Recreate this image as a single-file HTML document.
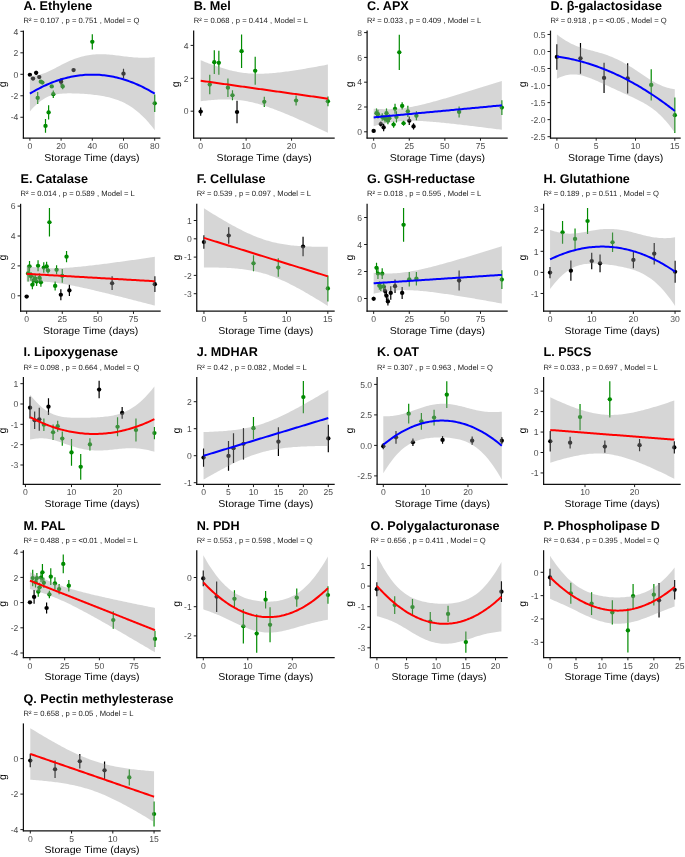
<!DOCTYPE html>
<html><head><meta charset="utf-8"><style>
html,body{margin:0;padding:0;background:#fff;width:685px;height:857px;overflow:hidden}
svg{display:block;filter:blur(0.45px)}
text{font-family:"Liberation Sans", sans-serif;text-rendering:geometricPrecision}
</style></head><body>
<svg width="685" height="857" viewBox="0 0 685 857">
<rect width="685" height="857" fill="#fff"/>
<text transform="translate(23.40,10.00) scale(1.0,1)" font-size="12.63" text-anchor="start" fill="#000" font-weight="bold">A. Ethylene</text>
<text transform="translate(23.40,23.20) scale(1.0,1)" font-size="7.63" text-anchor="start" fill="#1a1a1a">R² = 0.107 , p = 0.751 , Model = Q</text>
<clipPath id="clipA"><rect x="23.40" y="30.60" width="137.00" height="107.40"/></clipPath>
<g clip-path="url(#clipA)">
<ellipse cx="29.90" cy="74.73" rx="2.2" ry="2.1" fill="#000000"/>
<line x1="33.02" y1="76.98" x2="33.02" y2="80.21" stroke="#000000" stroke-width="1.2"/>
<ellipse cx="33.02" cy="78.60" rx="2.2" ry="2.1" fill="#000000"/>
<line x1="36.14" y1="70.65" x2="36.14" y2="74.94" stroke="#000000" stroke-width="1.2"/>
<ellipse cx="36.14" cy="72.80" rx="2.2" ry="2.1" fill="#000000"/>
<line x1="39.26" y1="75.48" x2="39.26" y2="78.70" stroke="#000000" stroke-width="1.2"/>
<ellipse cx="39.26" cy="77.09" rx="2.2" ry="2.1" fill="#000000"/>
<line x1="40.82" y1="80.42" x2="40.82" y2="83.00" stroke="#008B00" stroke-width="1.2"/>
<ellipse cx="40.82" cy="81.71" rx="2.2" ry="2.1" fill="#008B00"/>
<line x1="42.38" y1="81.50" x2="42.38" y2="83.64" stroke="#008B00" stroke-width="1.2"/>
<ellipse cx="42.38" cy="82.57" rx="2.2" ry="2.1" fill="#008B00"/>
<line x1="37.70" y1="91.91" x2="37.70" y2="103.94" stroke="#008B00" stroke-width="1.2"/>
<ellipse cx="37.70" cy="97.93" rx="2.2" ry="2.1" fill="#008B00"/>
<line x1="45.50" y1="119.09" x2="45.50" y2="132.83" stroke="#008B00" stroke-width="1.2"/>
<ellipse cx="45.50" cy="125.96" rx="2.2" ry="2.1" fill="#008B00"/>
<line x1="48.62" y1="105.23" x2="48.62" y2="119.62" stroke="#008B00" stroke-width="1.2"/>
<ellipse cx="48.62" cy="112.43" rx="2.2" ry="2.1" fill="#008B00"/>
<line x1="51.74" y1="85.15" x2="51.74" y2="87.72" stroke="#008B00" stroke-width="1.2"/>
<ellipse cx="51.74" cy="86.44" rx="2.2" ry="2.1" fill="#008B00"/>
<line x1="53.30" y1="90.41" x2="53.30" y2="97.93" stroke="#008B00" stroke-width="1.2"/>
<ellipse cx="53.30" cy="94.17" rx="2.2" ry="2.1" fill="#008B00"/>
<line x1="61.10" y1="77.95" x2="61.10" y2="85.47" stroke="#000000" stroke-width="1.2"/>
<ellipse cx="61.10" cy="81.71" rx="2.2" ry="2.1" fill="#000000"/>
<line x1="62.66" y1="83.54" x2="62.66" y2="89.34" stroke="#008B00" stroke-width="1.2"/>
<ellipse cx="62.66" cy="86.44" rx="2.2" ry="2.1" fill="#008B00"/>
<line x1="73.58" y1="68.82" x2="73.58" y2="71.40" stroke="#000000" stroke-width="1.2"/>
<ellipse cx="73.58" cy="70.11" rx="2.2" ry="2.1" fill="#000000"/>
<line x1="92.30" y1="34.24" x2="92.30" y2="49.49" stroke="#008B00" stroke-width="1.2"/>
<ellipse cx="92.30" cy="41.87" rx="2.2" ry="2.1" fill="#008B00"/>
<line x1="123.50" y1="68.82" x2="123.50" y2="78.49" stroke="#000000" stroke-width="1.2"/>
<ellipse cx="123.50" cy="73.66" rx="2.2" ry="2.1" fill="#000000"/>
<line x1="154.70" y1="94.60" x2="154.70" y2="112.00" stroke="#008B00" stroke-width="1.2"/>
<ellipse cx="154.70" cy="103.30" rx="2.2" ry="2.1" fill="#008B00"/>
<path d="M29.90,75.80 L31.48,75.75 L33.06,75.65 L34.64,75.49 L36.22,75.28 L37.80,75.01 L39.38,74.67 L40.96,74.27 L42.54,73.80 L44.12,73.26 L45.70,72.67 L47.28,72.02 L48.86,71.32 L50.44,70.57 L52.02,69.79 L53.60,68.99 L55.18,68.17 L56.76,67.33 L58.34,66.50 L59.92,65.67 L61.49,64.84 L63.07,64.03 L64.65,63.24 L66.23,62.47 L67.81,61.73 L69.39,61.02 L70.97,60.33 L72.55,59.68 L74.13,59.07 L75.71,58.48 L77.29,57.94 L78.87,57.43 L80.45,56.96 L82.03,56.53 L83.61,56.14 L85.19,55.78 L86.77,55.46 L88.35,55.18 L89.93,54.94 L91.51,54.73 L93.09,54.56 L94.67,54.42 L96.25,54.32 L97.83,54.25 L99.41,54.22 L100.99,54.21 L102.57,54.23 L104.15,54.28 L105.73,54.35 L107.31,54.45 L108.89,54.57 L110.47,54.70 L112.05,54.86 L113.63,55.03 L115.21,55.21 L116.79,55.40 L118.37,55.60 L119.95,55.80 L121.53,56.00 L123.11,56.20 L124.68,56.40 L126.26,56.60 L127.84,56.78 L129.42,56.96 L131.00,57.12 L132.58,57.27 L134.16,57.40 L135.74,57.51 L137.32,57.60 L138.90,57.68 L140.48,57.73 L142.06,57.75 L143.64,57.76 L145.22,57.74 L146.80,57.69 L148.38,57.63 L149.96,57.53 L151.54,57.42 L153.12,57.28 L154.70,57.11 L154.70,130.15 L153.12,128.09 L151.54,126.09 L149.96,124.17 L148.38,122.33 L146.80,120.55 L145.22,118.85 L143.64,117.23 L142.06,115.67 L140.48,114.19 L138.90,112.78 L137.32,111.43 L135.74,110.16 L134.16,108.96 L132.58,107.82 L131.00,106.75 L129.42,105.75 L127.84,104.80 L126.26,103.91 L124.68,103.08 L123.11,102.31 L121.53,101.59 L119.95,100.91 L118.37,100.29 L116.79,99.70 L115.21,99.16 L113.63,98.66 L112.05,98.20 L110.47,97.77 L108.89,97.37 L107.31,97.00 L105.73,96.66 L104.15,96.34 L102.57,96.05 L100.99,95.78 L99.41,95.53 L97.83,95.30 L96.25,95.08 L94.67,94.88 L93.09,94.70 L91.51,94.53 L89.93,94.37 L88.35,94.22 L86.77,94.09 L85.19,93.96 L83.61,93.85 L82.03,93.75 L80.45,93.66 L78.87,93.58 L77.29,93.51 L75.71,93.45 L74.13,93.41 L72.55,93.38 L70.97,93.36 L69.39,93.36 L67.81,93.37 L66.23,93.41 L64.65,93.47 L63.07,93.56 L61.49,93.67 L59.92,93.83 L58.34,94.02 L56.76,94.25 L55.18,94.54 L53.60,94.89 L52.02,95.30 L50.44,95.79 L48.86,96.36 L47.28,97.03 L45.70,97.79 L44.12,98.65 L42.54,99.63 L40.96,100.72 L39.38,101.93 L37.80,103.24 L36.22,104.68 L34.64,106.22 L33.06,107.87 L31.48,109.62 L29.90,111.47 Z" fill="#999999" fill-opacity="0.4"/>
<path d="M29.90,93.63 L31.48,92.68 L33.06,91.76 L34.64,90.86 L36.22,89.98 L37.80,89.13 L39.38,88.30 L40.96,87.49 L42.54,86.71 L44.12,85.96 L45.70,85.23 L47.28,84.52 L48.86,83.84 L50.44,83.18 L52.02,82.55 L53.60,81.94 L55.18,81.35 L56.76,80.79 L58.34,80.26 L59.92,79.75 L61.49,79.26 L63.07,78.80 L64.65,78.36 L66.23,77.94 L67.81,77.55 L69.39,77.19 L70.97,76.85 L72.55,76.53 L74.13,76.24 L75.71,75.97 L77.29,75.72 L78.87,75.51 L80.45,75.31 L82.03,75.14 L83.61,74.99 L85.19,74.87 L86.77,74.77 L88.35,74.70 L89.93,74.65 L91.51,74.63 L93.09,74.63 L94.67,74.65 L96.25,74.70 L97.83,74.77 L99.41,74.87 L100.99,74.99 L102.57,75.14 L104.15,75.31 L105.73,75.51 L107.31,75.72 L108.89,75.97 L110.47,76.24 L112.05,76.53 L113.63,76.85 L115.21,77.19 L116.79,77.55 L118.37,77.94 L119.95,78.36 L121.53,78.79 L123.11,79.26 L124.68,79.74 L126.26,80.26 L127.84,80.79 L129.42,81.35 L131.00,81.94 L132.58,82.55 L134.16,83.18 L135.74,83.84 L137.32,84.52 L138.90,85.23 L140.48,85.96 L142.06,86.71 L143.64,87.49 L145.22,88.30 L146.80,89.12 L148.38,89.98 L149.96,90.85 L151.54,91.76 L153.12,92.68 L154.70,93.63" fill="none" stroke="#0000FF" stroke-width="2.0"/>
</g>
<line x1="23.40" y1="30.60" x2="23.40" y2="138.55" stroke="#111111" stroke-width="1.25"/>
<line x1="22.85" y1="138.00" x2="160.40" y2="138.00" stroke="#111111" stroke-width="1.25"/>
<line x1="20.40" y1="31.34" x2="23.40" y2="31.34" stroke="#111111" stroke-width="0.95"/>
<text transform="translate(18.40,34.54) scale(1.0,1)" font-size="8.6" text-anchor="end" fill="#4D4D4D">4</text>
<line x1="20.40" y1="52.82" x2="23.40" y2="52.82" stroke="#111111" stroke-width="0.95"/>
<text transform="translate(18.40,56.02) scale(1.0,1)" font-size="8.6" text-anchor="end" fill="#4D4D4D">2</text>
<line x1="20.40" y1="74.30" x2="23.40" y2="74.30" stroke="#111111" stroke-width="0.95"/>
<text transform="translate(18.40,77.50) scale(1.0,1)" font-size="8.6" text-anchor="end" fill="#4D4D4D">0</text>
<line x1="20.40" y1="95.78" x2="23.40" y2="95.78" stroke="#111111" stroke-width="0.95"/>
<text transform="translate(18.40,98.98) scale(1.0,1)" font-size="8.6" text-anchor="end" fill="#4D4D4D">-2</text>
<line x1="20.40" y1="117.26" x2="23.40" y2="117.26" stroke="#111111" stroke-width="0.95"/>
<text transform="translate(18.40,120.46) scale(1.0,1)" font-size="8.6" text-anchor="end" fill="#4D4D4D">-4</text>
<line x1="29.90" y1="138.00" x2="29.90" y2="140.70" stroke="#111111" stroke-width="0.95"/>
<text transform="translate(29.90,149.00) scale(1.0,1)" font-size="8.6" text-anchor="middle" fill="#4D4D4D">0</text>
<line x1="61.10" y1="138.00" x2="61.10" y2="140.70" stroke="#111111" stroke-width="0.95"/>
<text transform="translate(61.10,149.00) scale(1.0,1)" font-size="8.6" text-anchor="middle" fill="#4D4D4D">20</text>
<line x1="92.30" y1="138.00" x2="92.30" y2="140.70" stroke="#111111" stroke-width="0.95"/>
<text transform="translate(92.30,149.00) scale(1.0,1)" font-size="8.6" text-anchor="middle" fill="#4D4D4D">40</text>
<line x1="123.50" y1="138.00" x2="123.50" y2="140.70" stroke="#111111" stroke-width="0.95"/>
<text transform="translate(123.50,149.00) scale(1.0,1)" font-size="8.6" text-anchor="middle" fill="#4D4D4D">60</text>
<line x1="154.70" y1="138.00" x2="154.70" y2="140.70" stroke="#111111" stroke-width="0.95"/>
<text transform="translate(154.70,149.00) scale(1.0,1)" font-size="8.6" text-anchor="middle" fill="#4D4D4D">80</text>
<text transform="translate(91.90,160.60) scale(1.057,1)" font-size="10.0" text-anchor="middle" fill="#000">Storage Time (days)</text>
<text transform="translate(6.25,84.30) scale(1.0,1) rotate(-90)" font-size="10.5" text-anchor="middle" fill="#000">g</text>
<text transform="translate(193.65,10.00) scale(1.0,1)" font-size="12.63" text-anchor="start" fill="#000" font-weight="bold">B. Mel</text>
<text transform="translate(193.65,23.20) scale(1.0,1)" font-size="7.63" text-anchor="start" fill="#1a1a1a">R² = 0.068 , p = 0.414 , Model = L</text>
<clipPath id="clipB"><rect x="193.65" y="30.60" width="141.05" height="107.40"/></clipPath>
<g clip-path="url(#clipB)">
<line x1="200.67" y1="107.42" x2="200.67" y2="115.64" stroke="#000000" stroke-width="1.2"/>
<ellipse cx="200.67" cy="111.53" rx="2.2" ry="2.1" fill="#000000"/>
<line x1="209.76" y1="74.85" x2="209.76" y2="94.26" stroke="#008B00" stroke-width="1.2"/>
<ellipse cx="209.76" cy="84.55" rx="2.2" ry="2.1" fill="#008B00"/>
<line x1="214.30" y1="50.34" x2="214.30" y2="74.02" stroke="#008B00" stroke-width="1.2"/>
<ellipse cx="214.30" cy="62.18" rx="2.2" ry="2.1" fill="#008B00"/>
<line x1="218.85" y1="50.83" x2="218.85" y2="74.85" stroke="#008B00" stroke-width="1.2"/>
<ellipse cx="218.85" cy="62.84" rx="2.2" ry="2.1" fill="#008B00"/>
<line x1="227.93" y1="78.46" x2="227.93" y2="96.89" stroke="#008B00" stroke-width="1.2"/>
<ellipse cx="227.93" cy="87.68" rx="2.2" ry="2.1" fill="#008B00"/>
<line x1="232.48" y1="90.14" x2="232.48" y2="100.34" stroke="#008B00" stroke-width="1.2"/>
<ellipse cx="232.48" cy="95.24" rx="2.2" ry="2.1" fill="#008B00"/>
<line x1="237.02" y1="100.84" x2="237.02" y2="123.21" stroke="#000000" stroke-width="1.2"/>
<ellipse cx="237.02" cy="112.02" rx="2.2" ry="2.1" fill="#000000"/>
<line x1="241.57" y1="34.38" x2="241.57" y2="67.94" stroke="#008B00" stroke-width="1.2"/>
<ellipse cx="241.57" cy="51.16" rx="2.2" ry="2.1" fill="#008B00"/>
<line x1="255.20" y1="56.75" x2="255.20" y2="84.72" stroke="#008B00" stroke-width="1.2"/>
<ellipse cx="255.20" cy="70.73" rx="2.2" ry="2.1" fill="#008B00"/>
<line x1="264.29" y1="96.72" x2="264.29" y2="106.92" stroke="#008B00" stroke-width="1.2"/>
<ellipse cx="264.29" cy="101.82" rx="2.2" ry="2.1" fill="#008B00"/>
<line x1="296.09" y1="95.57" x2="296.09" y2="105.44" stroke="#008B00" stroke-width="1.2"/>
<ellipse cx="296.09" cy="100.51" rx="2.2" ry="2.1" fill="#008B00"/>
<line x1="327.90" y1="96.40" x2="327.90" y2="106.27" stroke="#008B00" stroke-width="1.2"/>
<ellipse cx="327.90" cy="101.33" rx="2.2" ry="2.1" fill="#008B00"/>
<path d="M200.67,60.20 L202.28,60.85 L203.89,61.50 L205.50,62.13 L207.11,62.76 L208.72,63.38 L210.33,63.98 L211.94,64.58 L213.55,65.16 L215.16,65.73 L216.78,66.29 L218.39,66.83 L220.00,67.36 L221.61,67.87 L223.22,68.37 L224.83,68.84 L226.44,69.30 L228.05,69.74 L229.66,70.16 L231.27,70.56 L232.88,70.94 L234.49,71.29 L236.10,71.62 L237.71,71.93 L239.32,72.21 L240.93,72.47 L242.54,72.70 L244.15,72.91 L245.76,73.10 L247.38,73.26 L248.99,73.40 L250.60,73.51 L252.21,73.60 L253.82,73.67 L255.43,73.71 L257.04,73.74 L258.65,73.75 L260.26,73.73 L261.87,73.70 L263.48,73.65 L265.09,73.59 L266.70,73.51 L268.31,73.41 L269.92,73.30 L271.53,73.18 L273.14,73.05 L274.75,72.90 L276.36,72.74 L277.98,72.58 L279.59,72.40 L281.20,72.22 L282.81,72.02 L284.42,71.82 L286.03,71.61 L287.64,71.39 L289.25,71.17 L290.86,70.94 L292.47,70.70 L294.08,70.46 L295.69,70.22 L297.30,69.97 L298.91,69.71 L300.52,69.45 L302.13,69.19 L303.74,68.92 L305.35,68.65 L306.97,68.37 L308.58,68.10 L310.19,67.82 L311.80,67.53 L313.41,67.25 L315.02,66.96 L316.63,66.66 L318.24,66.37 L319.85,66.07 L321.46,65.78 L323.07,65.47 L324.68,65.17 L326.29,64.87 L327.90,64.56 L327.90,132.74 L326.29,131.98 L324.68,131.22 L323.07,130.46 L321.46,129.71 L319.85,128.96 L318.24,128.21 L316.63,127.46 L315.02,126.71 L313.41,125.97 L311.80,125.23 L310.19,124.49 L308.58,123.76 L306.97,123.03 L305.35,122.30 L303.74,121.57 L302.13,120.85 L300.52,120.13 L298.91,119.42 L297.30,118.71 L295.69,118.01 L294.08,117.31 L292.47,116.61 L290.86,115.92 L289.25,115.24 L287.64,114.56 L286.03,113.89 L284.42,113.23 L282.81,112.57 L281.20,111.92 L279.59,111.28 L277.98,110.65 L276.36,110.03 L274.75,109.42 L273.14,108.82 L271.53,108.23 L269.92,107.66 L268.31,107.10 L266.70,106.55 L265.09,106.01 L263.48,105.49 L261.87,104.99 L260.26,104.51 L258.65,104.04 L257.04,103.59 L255.43,103.16 L253.82,102.76 L252.21,102.37 L250.60,102.01 L248.99,101.67 L247.38,101.35 L245.76,101.06 L244.15,100.79 L242.54,100.54 L240.93,100.32 L239.32,100.13 L237.71,99.96 L236.10,99.81 L234.49,99.69 L232.88,99.59 L231.27,99.51 L229.66,99.46 L228.05,99.42 L226.44,99.41 L224.83,99.41 L223.22,99.44 L221.61,99.48 L220.00,99.53 L218.39,99.61 L216.78,99.70 L215.16,99.80 L213.55,99.92 L211.94,100.05 L210.33,100.19 L208.72,100.34 L207.11,100.50 L205.50,100.68 L203.89,100.86 L202.28,101.05 L200.67,101.25 Z" fill="#999999" fill-opacity="0.4"/>
<path d="M200.67,80.72 L202.28,80.95 L203.89,81.18 L205.50,81.40 L207.11,81.63 L208.72,81.86 L210.33,82.09 L211.94,82.31 L213.55,82.54 L215.16,82.77 L216.78,82.99 L218.39,83.22 L220.00,83.45 L221.61,83.67 L223.22,83.90 L224.83,84.13 L226.44,84.35 L228.05,84.58 L229.66,84.81 L231.27,85.04 L232.88,85.26 L234.49,85.49 L236.10,85.72 L237.71,85.94 L239.32,86.17 L240.93,86.40 L242.54,86.62 L244.15,86.85 L245.76,87.08 L247.38,87.30 L248.99,87.53 L250.60,87.76 L252.21,87.99 L253.82,88.21 L255.43,88.44 L257.04,88.67 L258.65,88.89 L260.26,89.12 L261.87,89.35 L263.48,89.57 L265.09,89.80 L266.70,90.03 L268.31,90.25 L269.92,90.48 L271.53,90.71 L273.14,90.94 L274.75,91.16 L276.36,91.39 L277.98,91.62 L279.59,91.84 L281.20,92.07 L282.81,92.30 L284.42,92.52 L286.03,92.75 L287.64,92.98 L289.25,93.20 L290.86,93.43 L292.47,93.66 L294.08,93.88 L295.69,94.11 L297.30,94.34 L298.91,94.57 L300.52,94.79 L302.13,95.02 L303.74,95.25 L305.35,95.47 L306.97,95.70 L308.58,95.93 L310.19,96.15 L311.80,96.38 L313.41,96.61 L315.02,96.83 L316.63,97.06 L318.24,97.29 L319.85,97.52 L321.46,97.74 L323.07,97.97 L324.68,98.20 L326.29,98.42 L327.90,98.65" fill="none" stroke="#FF0000" stroke-width="2.0"/>
</g>
<line x1="193.65" y1="30.60" x2="193.65" y2="138.55" stroke="#111111" stroke-width="1.25"/>
<line x1="193.10" y1="138.00" x2="334.70" y2="138.00" stroke="#111111" stroke-width="1.25"/>
<line x1="190.65" y1="45.40" x2="193.65" y2="45.40" stroke="#111111" stroke-width="0.95"/>
<text transform="translate(188.65,48.60) scale(1.0,1)" font-size="8.6" text-anchor="end" fill="#4D4D4D">4</text>
<line x1="190.65" y1="78.30" x2="193.65" y2="78.30" stroke="#111111" stroke-width="0.95"/>
<text transform="translate(188.65,81.50) scale(1.0,1)" font-size="8.6" text-anchor="end" fill="#4D4D4D">2</text>
<line x1="190.65" y1="111.20" x2="193.65" y2="111.20" stroke="#111111" stroke-width="0.95"/>
<text transform="translate(188.65,114.40) scale(1.0,1)" font-size="8.6" text-anchor="end" fill="#4D4D4D">0</text>
<line x1="200.67" y1="138.00" x2="200.67" y2="140.70" stroke="#111111" stroke-width="0.95"/>
<text transform="translate(200.67,149.00) scale(1.0,1)" font-size="8.6" text-anchor="middle" fill="#4D4D4D">0</text>
<line x1="246.11" y1="138.00" x2="246.11" y2="140.70" stroke="#111111" stroke-width="0.95"/>
<text transform="translate(246.11,149.00) scale(1.0,1)" font-size="8.6" text-anchor="middle" fill="#4D4D4D">10</text>
<line x1="291.55" y1="138.00" x2="291.55" y2="140.70" stroke="#111111" stroke-width="0.95"/>
<text transform="translate(291.55,149.00) scale(1.0,1)" font-size="8.6" text-anchor="middle" fill="#4D4D4D">20</text>
<text transform="translate(264.18,160.60) scale(1.057,1)" font-size="10.0" text-anchor="middle" fill="#000">Storage Time (days)</text>
<text transform="translate(179.37,84.30) scale(1.0,1) rotate(-90)" font-size="10.5" text-anchor="middle" fill="#000">g</text>
<text transform="translate(367.10,10.00) scale(1.0,1)" font-size="12.63" text-anchor="start" fill="#000" font-weight="bold">C. APX</text>
<text transform="translate(367.10,23.20) scale(1.0,1)" font-size="7.63" text-anchor="start" fill="#1a1a1a">R² = 0.033 , p = 0.409 , Model = L</text>
<clipPath id="clipC"><rect x="367.10" y="30.60" width="140.60" height="107.40"/></clipPath>
<g clip-path="url(#clipC)">
<line x1="373.67" y1="129.69" x2="373.67" y2="132.17" stroke="#000000" stroke-width="1.2"/>
<ellipse cx="373.67" cy="130.93" rx="2.2" ry="2.1" fill="#000000"/>
<line x1="376.52" y1="108.49" x2="376.52" y2="117.91" stroke="#008B00" stroke-width="1.2"/>
<ellipse cx="376.52" cy="113.20" rx="2.2" ry="2.1" fill="#008B00"/>
<line x1="377.94" y1="109.85" x2="377.94" y2="118.53" stroke="#008B00" stroke-width="1.2"/>
<ellipse cx="377.94" cy="114.19" rx="2.2" ry="2.1" fill="#008B00"/>
<line x1="380.79" y1="121.51" x2="380.79" y2="126.47" stroke="#000000" stroke-width="1.2"/>
<ellipse cx="380.79" cy="123.99" rx="2.2" ry="2.1" fill="#000000"/>
<line x1="383.64" y1="123.74" x2="383.64" y2="131.18" stroke="#000000" stroke-width="1.2"/>
<ellipse cx="383.64" cy="127.46" rx="2.2" ry="2.1" fill="#000000"/>
<line x1="386.49" y1="108.61" x2="386.49" y2="117.79" stroke="#008B00" stroke-width="1.2"/>
<ellipse cx="386.49" cy="113.20" rx="2.2" ry="2.1" fill="#008B00"/>
<line x1="387.91" y1="116.92" x2="387.91" y2="124.36" stroke="#008B00" stroke-width="1.2"/>
<ellipse cx="387.91" cy="120.64" rx="2.2" ry="2.1" fill="#008B00"/>
<line x1="389.33" y1="114.44" x2="389.33" y2="121.88" stroke="#008B00" stroke-width="1.2"/>
<ellipse cx="389.33" cy="118.16" rx="2.2" ry="2.1" fill="#008B00"/>
<line x1="385.06" y1="115.06" x2="385.06" y2="122.50" stroke="#008B00" stroke-width="1.2"/>
<ellipse cx="385.06" cy="118.78" rx="2.2" ry="2.1" fill="#008B00"/>
<line x1="382.21" y1="113.20" x2="382.21" y2="120.64" stroke="#008B00" stroke-width="1.2"/>
<ellipse cx="382.21" cy="116.92" rx="2.2" ry="2.1" fill="#008B00"/>
<line x1="393.61" y1="121.51" x2="393.61" y2="127.71" stroke="#008B00" stroke-width="1.2"/>
<ellipse cx="393.61" cy="124.61" rx="2.2" ry="2.1" fill="#008B00"/>
<line x1="395.03" y1="103.78" x2="395.03" y2="113.70" stroke="#008B00" stroke-width="1.2"/>
<ellipse cx="395.03" cy="108.74" rx="2.2" ry="2.1" fill="#008B00"/>
<line x1="396.45" y1="111.34" x2="396.45" y2="122.50" stroke="#008B00" stroke-width="1.2"/>
<ellipse cx="396.45" cy="116.92" rx="2.2" ry="2.1" fill="#008B00"/>
<line x1="399.30" y1="34.71" x2="399.30" y2="69.92" stroke="#008B00" stroke-width="1.2"/>
<ellipse cx="399.30" cy="52.32" rx="2.2" ry="2.1" fill="#008B00"/>
<line x1="402.15" y1="102.16" x2="402.15" y2="109.60" stroke="#008B00" stroke-width="1.2"/>
<ellipse cx="402.15" cy="105.88" rx="2.2" ry="2.1" fill="#008B00"/>
<line x1="403.57" y1="120.76" x2="403.57" y2="125.72" stroke="#008B00" stroke-width="1.2"/>
<ellipse cx="403.57" cy="123.24" rx="2.2" ry="2.1" fill="#008B00"/>
<line x1="407.85" y1="105.64" x2="407.85" y2="117.04" stroke="#008B00" stroke-width="1.2"/>
<ellipse cx="407.85" cy="111.34" rx="2.2" ry="2.1" fill="#008B00"/>
<line x1="409.27" y1="116.42" x2="409.27" y2="125.10" stroke="#000000" stroke-width="1.2"/>
<ellipse cx="409.27" cy="120.76" rx="2.2" ry="2.1" fill="#000000"/>
<line x1="413.54" y1="123.37" x2="413.54" y2="129.57" stroke="#000000" stroke-width="1.2"/>
<ellipse cx="413.54" cy="126.47" rx="2.2" ry="2.1" fill="#000000"/>
<line x1="416.39" y1="111.34" x2="416.39" y2="120.27" stroke="#008B00" stroke-width="1.2"/>
<ellipse cx="416.39" cy="115.80" rx="2.2" ry="2.1" fill="#008B00"/>
<line x1="459.11" y1="106.38" x2="459.11" y2="117.54" stroke="#008B00" stroke-width="1.2"/>
<ellipse cx="459.11" cy="111.96" rx="2.2" ry="2.1" fill="#008B00"/>
<line x1="501.83" y1="100.18" x2="501.83" y2="115.06" stroke="#008B00" stroke-width="1.2"/>
<ellipse cx="501.83" cy="107.62" rx="2.2" ry="2.1" fill="#008B00"/>
<path d="M373.67,108.71 L375.29,108.81 L376.91,108.90 L378.54,108.97 L380.16,109.04 L381.78,109.09 L383.40,109.14 L385.03,109.16 L386.65,109.17 L388.27,109.17 L389.89,109.14 L391.52,109.10 L393.14,109.04 L394.76,108.96 L396.38,108.86 L398.00,108.73 L399.63,108.59 L401.25,108.42 L402.87,108.23 L404.49,108.02 L406.12,107.79 L407.74,107.54 L409.36,107.27 L410.98,106.98 L412.60,106.67 L414.23,106.35 L415.85,106.01 L417.47,105.66 L419.09,105.30 L420.72,104.92 L422.34,104.54 L423.96,104.14 L425.58,103.74 L427.21,103.32 L428.83,102.90 L430.45,102.47 L432.07,102.04 L433.69,101.60 L435.32,101.15 L436.94,100.70 L438.56,100.25 L440.18,99.79 L441.81,99.32 L443.43,98.86 L445.05,98.39 L446.67,97.91 L448.29,97.44 L449.92,96.96 L451.54,96.48 L453.16,95.99 L454.78,95.51 L456.41,95.02 L458.03,94.53 L459.65,94.04 L461.27,93.55 L462.90,93.05 L464.52,92.56 L466.14,92.06 L467.76,91.56 L469.38,91.07 L471.01,90.57 L472.63,90.06 L474.25,89.56 L475.87,89.06 L477.50,88.56 L479.12,88.05 L480.74,87.55 L482.36,87.04 L483.98,86.53 L485.61,86.02 L487.23,85.52 L488.85,85.01 L490.47,84.50 L492.10,83.99 L493.72,83.48 L495.34,82.97 L496.96,82.46 L498.59,81.95 L500.21,81.43 L501.83,80.92 L501.83,129.78 L500.21,129.58 L498.59,129.37 L496.96,129.16 L495.34,128.96 L493.72,128.75 L492.10,128.54 L490.47,128.34 L488.85,128.13 L487.23,127.93 L485.61,127.73 L483.98,127.52 L482.36,127.32 L480.74,127.12 L479.12,126.92 L477.50,126.72 L475.87,126.52 L474.25,126.32 L472.63,126.12 L471.01,125.93 L469.38,125.73 L467.76,125.54 L466.14,125.35 L464.52,125.15 L462.90,124.96 L461.27,124.77 L459.65,124.59 L458.03,124.40 L456.41,124.21 L454.78,124.03 L453.16,123.85 L451.54,123.67 L449.92,123.50 L448.29,123.32 L446.67,123.15 L445.05,122.98 L443.43,122.82 L441.81,122.65 L440.18,122.50 L438.56,122.34 L436.94,122.19 L435.32,122.04 L433.69,121.90 L432.07,121.77 L430.45,121.64 L428.83,121.51 L427.21,121.40 L425.58,121.29 L423.96,121.19 L422.34,121.10 L420.72,121.01 L419.09,120.94 L417.47,120.88 L415.85,120.84 L414.23,120.81 L412.60,120.79 L410.98,120.79 L409.36,120.80 L407.74,120.84 L406.12,120.89 L404.49,120.96 L402.87,121.06 L401.25,121.17 L399.63,121.31 L398.00,121.47 L396.38,121.65 L394.76,121.85 L393.14,122.07 L391.52,122.32 L389.89,122.58 L388.27,122.86 L386.65,123.16 L385.03,123.48 L383.40,123.81 L381.78,124.15 L380.16,124.51 L378.54,124.88 L376.91,125.26 L375.29,125.66 L373.67,126.06 Z" fill="#999999" fill-opacity="0.4"/>
<path d="M373.67,117.39 L375.29,117.23 L376.91,117.08 L378.54,116.93 L380.16,116.78 L381.78,116.62 L383.40,116.47 L385.03,116.32 L386.65,116.17 L388.27,116.01 L389.89,115.86 L391.52,115.71 L393.14,115.56 L394.76,115.41 L396.38,115.25 L398.00,115.10 L399.63,114.95 L401.25,114.80 L402.87,114.64 L404.49,114.49 L406.12,114.34 L407.74,114.19 L409.36,114.03 L410.98,113.88 L412.60,113.73 L414.23,113.58 L415.85,113.43 L417.47,113.27 L419.09,113.12 L420.72,112.97 L422.34,112.82 L423.96,112.66 L425.58,112.51 L427.21,112.36 L428.83,112.21 L430.45,112.05 L432.07,111.90 L433.69,111.75 L435.32,111.60 L436.94,111.45 L438.56,111.29 L440.18,111.14 L441.81,110.99 L443.43,110.84 L445.05,110.68 L446.67,110.53 L448.29,110.38 L449.92,110.23 L451.54,110.07 L453.16,109.92 L454.78,109.77 L456.41,109.62 L458.03,109.47 L459.65,109.31 L461.27,109.16 L462.90,109.01 L464.52,108.86 L466.14,108.70 L467.76,108.55 L469.38,108.40 L471.01,108.25 L472.63,108.09 L474.25,107.94 L475.87,107.79 L477.50,107.64 L479.12,107.49 L480.74,107.33 L482.36,107.18 L483.98,107.03 L485.61,106.88 L487.23,106.72 L488.85,106.57 L490.47,106.42 L492.10,106.27 L493.72,106.11 L495.34,105.96 L496.96,105.81 L498.59,105.66 L500.21,105.51 L501.83,105.35" fill="none" stroke="#0000FF" stroke-width="2.0"/>
</g>
<line x1="367.10" y1="30.60" x2="367.10" y2="138.55" stroke="#111111" stroke-width="1.25"/>
<line x1="366.55" y1="138.00" x2="507.70" y2="138.00" stroke="#111111" stroke-width="1.25"/>
<line x1="364.10" y1="32.60" x2="367.10" y2="32.60" stroke="#111111" stroke-width="0.95"/>
<text transform="translate(362.10,35.80) scale(1.0,1)" font-size="8.6" text-anchor="end" fill="#4D4D4D">8</text>
<line x1="364.10" y1="57.40" x2="367.10" y2="57.40" stroke="#111111" stroke-width="0.95"/>
<text transform="translate(362.10,60.60) scale(1.0,1)" font-size="8.6" text-anchor="end" fill="#4D4D4D">6</text>
<line x1="364.10" y1="82.20" x2="367.10" y2="82.20" stroke="#111111" stroke-width="0.95"/>
<text transform="translate(362.10,85.40) scale(1.0,1)" font-size="8.6" text-anchor="end" fill="#4D4D4D">4</text>
<line x1="364.10" y1="107.00" x2="367.10" y2="107.00" stroke="#111111" stroke-width="0.95"/>
<text transform="translate(362.10,110.20) scale(1.0,1)" font-size="8.6" text-anchor="end" fill="#4D4D4D">2</text>
<line x1="364.10" y1="131.80" x2="367.10" y2="131.80" stroke="#111111" stroke-width="0.95"/>
<text transform="translate(362.10,135.00) scale(1.0,1)" font-size="8.6" text-anchor="end" fill="#4D4D4D">0</text>
<line x1="373.67" y1="138.00" x2="373.67" y2="140.70" stroke="#111111" stroke-width="0.95"/>
<text transform="translate(373.67,149.00) scale(1.0,1)" font-size="8.6" text-anchor="middle" fill="#4D4D4D">0</text>
<line x1="409.27" y1="138.00" x2="409.27" y2="140.70" stroke="#111111" stroke-width="0.95"/>
<text transform="translate(409.27,149.00) scale(1.0,1)" font-size="8.6" text-anchor="middle" fill="#4D4D4D">25</text>
<line x1="444.87" y1="138.00" x2="444.87" y2="140.70" stroke="#111111" stroke-width="0.95"/>
<text transform="translate(444.87,149.00) scale(1.0,1)" font-size="8.6" text-anchor="middle" fill="#4D4D4D">50</text>
<line x1="480.47" y1="138.00" x2="480.47" y2="140.70" stroke="#111111" stroke-width="0.95"/>
<text transform="translate(480.47,149.00) scale(1.0,1)" font-size="8.6" text-anchor="middle" fill="#4D4D4D">75</text>
<text transform="translate(437.40,160.60) scale(1.057,1)" font-size="10.0" text-anchor="middle" fill="#000">Storage Time (days)</text>
<text transform="translate(352.82,84.30) scale(1.0,1) rotate(-90)" font-size="10.5" text-anchor="middle" fill="#000">g</text>
<text transform="translate(550.50,10.00) scale(1.0,1)" font-size="12.63" text-anchor="start" fill="#000" font-weight="bold">D. β-galactosidase</text>
<text transform="translate(550.50,23.20) scale(1.0,1)" font-size="7.63" text-anchor="start" fill="#1a1a1a">R² = 0.918 , p = &lt;0.05 , Model = Q</text>
<clipPath id="clipD"><rect x="550.50" y="30.60" width="130.20" height="107.40"/></clipPath>
<g clip-path="url(#clipD)">
<line x1="556.90" y1="44.17" x2="556.90" y2="69.73" stroke="#000000" stroke-width="1.2"/>
<ellipse cx="556.90" cy="56.95" rx="2.2" ry="2.1" fill="#000000"/>
<line x1="580.48" y1="42.98" x2="580.48" y2="73.65" stroke="#000000" stroke-width="1.2"/>
<ellipse cx="580.48" cy="58.31" rx="2.2" ry="2.1" fill="#000000"/>
<line x1="604.06" y1="62.74" x2="604.06" y2="93.07" stroke="#000000" stroke-width="1.2"/>
<ellipse cx="604.06" cy="77.90" rx="2.2" ry="2.1" fill="#000000"/>
<line x1="627.64" y1="63.25" x2="627.64" y2="93.58" stroke="#000000" stroke-width="1.2"/>
<ellipse cx="627.64" cy="78.42" rx="2.2" ry="2.1" fill="#000000"/>
<line x1="651.22" y1="69.32" x2="651.22" y2="100.46" stroke="#008B00" stroke-width="1.2"/>
<ellipse cx="651.22" cy="84.89" rx="2.2" ry="2.1" fill="#008B00"/>
<line x1="674.80" y1="97.49" x2="674.80" y2="132.93" stroke="#008B00" stroke-width="1.2"/>
<ellipse cx="674.80" cy="115.21" rx="2.2" ry="2.1" fill="#008B00"/>
<path d="M556.90,34.38 L558.39,35.52 L559.88,36.63 L561.38,37.70 L562.87,38.72 L564.36,39.70 L565.85,40.63 L567.35,41.52 L568.84,42.36 L570.33,43.16 L571.82,43.91 L573.32,44.61 L574.81,45.27 L576.30,45.88 L577.79,46.46 L579.29,47.00 L580.78,47.50 L582.27,47.98 L583.76,48.43 L585.26,48.86 L586.75,49.27 L588.24,49.67 L589.73,50.06 L591.23,50.45 L592.72,50.84 L594.21,51.23 L595.70,51.63 L597.19,52.04 L598.69,52.46 L600.18,52.90 L601.67,53.35 L603.16,53.82 L604.66,54.31 L606.15,54.83 L607.64,55.36 L609.13,55.92 L610.63,56.51 L612.12,57.12 L613.61,57.75 L615.10,58.42 L616.60,59.10 L618.09,59.82 L619.58,60.56 L621.07,61.33 L622.57,62.12 L624.06,62.94 L625.55,63.78 L627.04,64.65 L628.54,65.54 L630.03,66.44 L631.52,67.37 L633.01,68.32 L634.51,69.28 L636.00,70.26 L637.49,71.24 L638.98,72.24 L640.47,73.24 L641.97,74.24 L643.46,75.24 L644.95,76.23 L646.44,77.21 L647.94,78.18 L649.43,79.13 L650.92,80.05 L652.41,80.94 L653.91,81.81 L655.40,82.63 L656.89,83.42 L658.38,84.17 L659.88,84.87 L661.37,85.52 L662.86,86.13 L664.35,86.69 L665.85,87.20 L667.34,87.66 L668.83,88.08 L670.32,88.46 L671.82,88.79 L673.31,89.08 L674.80,89.33 L674.80,132.54 L673.31,130.46 L671.82,128.44 L670.32,126.49 L668.83,124.61 L667.34,122.80 L665.85,121.06 L664.35,119.38 L662.86,117.78 L661.37,116.26 L659.88,114.80 L658.38,113.42 L656.89,112.10 L655.40,110.85 L653.91,109.66 L652.41,108.54 L650.92,107.47 L649.43,106.45 L647.94,105.49 L646.44,104.56 L644.95,103.68 L643.46,102.83 L641.97,102.01 L640.47,101.22 L638.98,100.45 L637.49,99.70 L636.00,98.97 L634.51,98.25 L633.01,97.54 L631.52,96.84 L630.03,96.15 L628.54,95.46 L627.04,94.77 L625.55,94.09 L624.06,93.41 L622.57,92.73 L621.07,92.05 L619.58,91.36 L618.09,90.68 L616.60,89.99 L615.10,89.30 L613.61,88.61 L612.12,87.92 L610.63,87.23 L609.13,86.53 L607.64,85.84 L606.15,85.14 L604.66,84.45 L603.16,83.76 L601.67,83.07 L600.18,82.39 L598.69,81.72 L597.19,81.06 L595.70,80.41 L594.21,79.77 L592.72,79.15 L591.23,78.55 L589.73,77.98 L588.24,77.44 L586.75,76.92 L585.26,76.45 L583.76,76.01 L582.27,75.62 L580.78,75.28 L579.29,75.00 L577.79,74.77 L576.30,74.60 L574.81,74.50 L573.32,74.46 L571.82,74.50 L570.33,74.60 L568.84,74.77 L567.35,75.02 L565.85,75.34 L564.36,75.73 L562.87,76.18 L561.38,76.71 L559.88,77.30 L558.39,77.96 L556.90,78.68 Z" fill="#999999" fill-opacity="0.4"/>
<path d="M556.90,56.53 L558.39,56.74 L559.88,56.97 L561.38,57.20 L562.87,57.45 L564.36,57.71 L565.85,57.99 L567.35,58.27 L568.84,58.57 L570.33,58.88 L571.82,59.20 L573.32,59.54 L574.81,59.88 L576.30,60.24 L577.79,60.61 L579.29,61.00 L580.78,61.39 L582.27,61.80 L583.76,62.22 L585.26,62.65 L586.75,63.10 L588.24,63.55 L589.73,64.02 L591.23,64.50 L592.72,65.00 L594.21,65.50 L595.70,66.02 L597.19,66.55 L598.69,67.09 L600.18,67.64 L601.67,68.21 L603.16,68.79 L604.66,69.38 L606.15,69.98 L607.64,70.60 L609.13,71.23 L610.63,71.87 L612.12,72.52 L613.61,73.18 L615.10,73.86 L616.60,74.55 L618.09,75.25 L619.58,75.96 L621.07,76.69 L622.57,77.42 L624.06,78.17 L625.55,78.94 L627.04,79.71 L628.54,80.50 L630.03,81.30 L631.52,82.11 L633.01,82.93 L634.51,83.76 L636.00,84.61 L637.49,85.47 L638.98,86.34 L640.47,87.23 L641.97,88.12 L643.46,89.03 L644.95,89.95 L646.44,90.89 L647.94,91.83 L649.43,92.79 L650.92,93.76 L652.41,94.74 L653.91,95.74 L655.40,96.74 L656.89,97.76 L658.38,98.79 L659.88,99.83 L661.37,100.89 L662.86,101.96 L664.35,103.04 L665.85,104.13 L667.34,105.23 L668.83,106.35 L670.32,107.48 L671.82,108.62 L673.31,109.77 L674.80,110.94" fill="none" stroke="#0000FF" stroke-width="2.0"/>
</g>
<line x1="550.50" y1="30.60" x2="550.50" y2="138.55" stroke="#111111" stroke-width="1.25"/>
<line x1="549.95" y1="138.00" x2="680.70" y2="138.00" stroke="#111111" stroke-width="1.25"/>
<line x1="547.50" y1="34.47" x2="550.50" y2="34.47" stroke="#111111" stroke-width="0.95"/>
<text transform="translate(545.50,37.67) scale(1.0,1)" font-size="8.6" text-anchor="end" fill="#4D4D4D">0.5</text>
<line x1="547.50" y1="51.50" x2="550.50" y2="51.50" stroke="#111111" stroke-width="0.95"/>
<text transform="translate(545.50,54.70) scale(1.0,1)" font-size="8.6" text-anchor="end" fill="#4D4D4D">0.0</text>
<line x1="547.50" y1="68.53" x2="550.50" y2="68.53" stroke="#111111" stroke-width="0.95"/>
<text transform="translate(545.50,71.73) scale(1.0,1)" font-size="8.6" text-anchor="end" fill="#4D4D4D">-0.5</text>
<line x1="547.50" y1="85.57" x2="550.50" y2="85.57" stroke="#111111" stroke-width="0.95"/>
<text transform="translate(545.50,88.77) scale(1.0,1)" font-size="8.6" text-anchor="end" fill="#4D4D4D">-1.0</text>
<line x1="547.50" y1="102.61" x2="550.50" y2="102.61" stroke="#111111" stroke-width="0.95"/>
<text transform="translate(545.50,105.81) scale(1.0,1)" font-size="8.6" text-anchor="end" fill="#4D4D4D">-1.5</text>
<line x1="547.50" y1="119.64" x2="550.50" y2="119.64" stroke="#111111" stroke-width="0.95"/>
<text transform="translate(545.50,122.84) scale(1.0,1)" font-size="8.6" text-anchor="end" fill="#4D4D4D">-2.0</text>
<line x1="547.50" y1="136.68" x2="550.50" y2="136.68" stroke="#111111" stroke-width="0.95"/>
<text transform="translate(545.50,139.88) scale(1.0,1)" font-size="8.6" text-anchor="end" fill="#4D4D4D">-2.5</text>
<line x1="556.90" y1="138.00" x2="556.90" y2="140.70" stroke="#111111" stroke-width="0.95"/>
<text transform="translate(556.90,149.00) scale(1.0,1)" font-size="8.6" text-anchor="middle" fill="#4D4D4D">0</text>
<line x1="596.20" y1="138.00" x2="596.20" y2="140.70" stroke="#111111" stroke-width="0.95"/>
<text transform="translate(596.20,149.00) scale(1.0,1)" font-size="8.6" text-anchor="middle" fill="#4D4D4D">5</text>
<line x1="635.50" y1="138.00" x2="635.50" y2="140.70" stroke="#111111" stroke-width="0.95"/>
<text transform="translate(635.50,149.00) scale(1.0,1)" font-size="8.6" text-anchor="middle" fill="#4D4D4D">10</text>
<line x1="674.80" y1="138.00" x2="674.80" y2="140.70" stroke="#111111" stroke-width="0.95"/>
<text transform="translate(674.80,149.00) scale(1.0,1)" font-size="8.6" text-anchor="middle" fill="#4D4D4D">15</text>
<text transform="translate(615.60,160.60) scale(1.057,1)" font-size="10.0" text-anchor="middle" fill="#000">Storage Time (days)</text>
<text transform="translate(526.18,84.30) scale(1.0,1) rotate(-90)" font-size="10.5" text-anchor="middle" fill="#000">g</text>
<text transform="translate(20.60,183.20) scale(1.0,1)" font-size="12.63" text-anchor="start" fill="#000" font-weight="bold">E. Catalase</text>
<text transform="translate(20.60,196.40) scale(1.0,1)" font-size="7.63" text-anchor="start" fill="#1a1a1a">R² = 0.014 , p = 0.589 , Model = L</text>
<clipPath id="clipE"><rect x="20.60" y="203.80" width="140.10" height="107.40"/></clipPath>
<g clip-path="url(#clipE)">
<ellipse cx="26.67" cy="296.55" rx="2.2" ry="2.1" fill="#000000"/>
<line x1="28.09" y1="265.15" x2="28.09" y2="281.60" stroke="#008B00" stroke-width="1.2"/>
<ellipse cx="28.09" cy="273.38" rx="2.2" ry="2.1" fill="#008B00"/>
<line x1="29.52" y1="260.97" x2="29.52" y2="271.73" stroke="#008B00" stroke-width="1.2"/>
<ellipse cx="29.52" cy="266.35" rx="2.2" ry="2.1" fill="#008B00"/>
<line x1="30.94" y1="271.88" x2="30.94" y2="280.85" stroke="#008B00" stroke-width="1.2"/>
<ellipse cx="30.94" cy="276.37" rx="2.2" ry="2.1" fill="#008B00"/>
<line x1="32.37" y1="280.25" x2="32.37" y2="289.22" stroke="#008B00" stroke-width="1.2"/>
<ellipse cx="32.37" cy="284.74" rx="2.2" ry="2.1" fill="#008B00"/>
<line x1="33.79" y1="275.62" x2="33.79" y2="284.59" stroke="#008B00" stroke-width="1.2"/>
<ellipse cx="33.79" cy="280.10" rx="2.2" ry="2.1" fill="#008B00"/>
<line x1="35.21" y1="274.87" x2="35.21" y2="282.35" stroke="#008B00" stroke-width="1.2"/>
<ellipse cx="35.21" cy="278.61" rx="2.2" ry="2.1" fill="#008B00"/>
<line x1="36.64" y1="277.11" x2="36.64" y2="286.08" stroke="#008B00" stroke-width="1.2"/>
<ellipse cx="36.64" cy="281.60" rx="2.2" ry="2.1" fill="#008B00"/>
<line x1="38.06" y1="260.37" x2="38.06" y2="271.13" stroke="#008B00" stroke-width="1.2"/>
<ellipse cx="38.06" cy="265.75" rx="2.2" ry="2.1" fill="#008B00"/>
<line x1="39.49" y1="273.38" x2="39.49" y2="282.35" stroke="#008B00" stroke-width="1.2"/>
<ellipse cx="39.49" cy="277.86" rx="2.2" ry="2.1" fill="#008B00"/>
<line x1="40.91" y1="277.86" x2="40.91" y2="286.83" stroke="#008B00" stroke-width="1.2"/>
<ellipse cx="40.91" cy="282.35" rx="2.2" ry="2.1" fill="#008B00"/>
<line x1="43.76" y1="262.31" x2="43.76" y2="272.78" stroke="#008B00" stroke-width="1.2"/>
<ellipse cx="43.76" cy="267.54" rx="2.2" ry="2.1" fill="#008B00"/>
<line x1="46.61" y1="261.86" x2="46.61" y2="270.83" stroke="#008B00" stroke-width="1.2"/>
<ellipse cx="46.61" cy="266.35" rx="2.2" ry="2.1" fill="#008B00"/>
<line x1="48.03" y1="267.54" x2="48.03" y2="273.52" stroke="#008B00" stroke-width="1.2"/>
<ellipse cx="48.03" cy="270.53" rx="2.2" ry="2.1" fill="#008B00"/>
<line x1="49.45" y1="208.04" x2="49.45" y2="236.45" stroke="#008B00" stroke-width="1.2"/>
<ellipse cx="49.45" cy="222.25" rx="2.2" ry="2.1" fill="#008B00"/>
<line x1="55.15" y1="281.45" x2="55.15" y2="290.42" stroke="#008B00" stroke-width="1.2"/>
<ellipse cx="55.15" cy="285.93" rx="2.2" ry="2.1" fill="#008B00"/>
<line x1="56.57" y1="265.30" x2="56.57" y2="274.27" stroke="#008B00" stroke-width="1.2"/>
<ellipse cx="56.57" cy="269.79" rx="2.2" ry="2.1" fill="#008B00"/>
<line x1="60.85" y1="289.22" x2="60.85" y2="300.29" stroke="#000000" stroke-width="1.2"/>
<ellipse cx="60.85" cy="294.75" rx="2.2" ry="2.1" fill="#000000"/>
<line x1="62.27" y1="269.04" x2="62.27" y2="282.79" stroke="#008B00" stroke-width="1.2"/>
<ellipse cx="62.27" cy="275.92" rx="2.2" ry="2.1" fill="#008B00"/>
<line x1="66.54" y1="250.95" x2="66.54" y2="262.31" stroke="#008B00" stroke-width="1.2"/>
<ellipse cx="66.54" cy="256.63" rx="2.2" ry="2.1" fill="#008B00"/>
<line x1="69.39" y1="284.74" x2="69.39" y2="296.10" stroke="#000000" stroke-width="1.2"/>
<ellipse cx="69.39" cy="290.42" rx="2.2" ry="2.1" fill="#000000"/>
<line x1="112.11" y1="276.37" x2="112.11" y2="290.12" stroke="#000000" stroke-width="1.2"/>
<ellipse cx="112.11" cy="283.24" rx="2.2" ry="2.1" fill="#000000"/>
<line x1="154.83" y1="276.22" x2="154.83" y2="292.06" stroke="#000000" stroke-width="1.2"/>
<ellipse cx="154.83" cy="284.14" rx="2.2" ry="2.1" fill="#000000"/>
<path d="M26.67,266.06 L28.29,266.31 L29.91,266.54 L31.54,266.77 L33.16,266.98 L34.78,267.17 L36.40,267.35 L38.03,267.51 L39.65,267.66 L41.27,267.79 L42.89,267.91 L44.52,268.01 L46.14,268.09 L47.76,268.15 L49.38,268.20 L51.00,268.23 L52.63,268.24 L54.25,268.24 L55.87,268.22 L57.49,268.19 L59.12,268.15 L60.74,268.09 L62.36,268.02 L63.98,267.94 L65.60,267.85 L67.23,267.75 L68.85,267.64 L70.47,267.52 L72.09,267.40 L73.72,267.26 L75.34,267.12 L76.96,266.97 L78.58,266.82 L80.21,266.66 L81.83,266.50 L83.45,266.33 L85.07,266.16 L86.69,265.98 L88.32,265.80 L89.94,265.62 L91.56,265.43 L93.18,265.24 L94.81,265.05 L96.43,264.85 L98.05,264.65 L99.67,264.45 L101.29,264.25 L102.92,264.04 L104.54,263.84 L106.16,263.63 L107.78,263.42 L109.41,263.20 L111.03,262.99 L112.65,262.78 L114.27,262.56 L115.90,262.34 L117.52,262.12 L119.14,261.90 L120.76,261.68 L122.38,261.46 L124.01,261.24 L125.63,261.01 L127.25,260.79 L128.87,260.56 L130.50,260.34 L132.12,260.11 L133.74,259.88 L135.36,259.65 L136.98,259.43 L138.61,259.20 L140.23,258.97 L141.85,258.73 L143.47,258.50 L145.10,258.27 L146.72,258.04 L148.34,257.81 L149.96,257.57 L151.59,257.34 L153.21,257.10 L154.83,256.87 L154.83,305.62 L153.21,305.19 L151.59,304.77 L149.96,304.35 L148.34,303.93 L146.72,303.51 L145.10,303.09 L143.47,302.67 L141.85,302.25 L140.23,301.83 L138.61,301.41 L136.98,301.00 L135.36,300.58 L133.74,300.16 L132.12,299.75 L130.50,299.33 L128.87,298.92 L127.25,298.50 L125.63,298.09 L124.01,297.68 L122.38,297.27 L120.76,296.86 L119.14,296.45 L117.52,296.04 L115.90,295.64 L114.27,295.23 L112.65,294.83 L111.03,294.42 L109.41,294.02 L107.78,293.62 L106.16,293.23 L104.54,292.83 L102.92,292.43 L101.29,292.04 L99.67,291.65 L98.05,291.26 L96.43,290.88 L94.81,290.49 L93.18,290.11 L91.56,289.73 L89.94,289.36 L88.32,288.99 L86.69,288.62 L85.07,288.25 L83.45,287.89 L81.83,287.54 L80.21,287.19 L78.58,286.84 L76.96,286.50 L75.34,286.16 L73.72,285.84 L72.09,285.51 L70.47,285.20 L68.85,284.89 L67.23,284.60 L65.60,284.31 L63.98,284.03 L62.36,283.76 L60.74,283.50 L59.12,283.26 L57.49,283.03 L55.87,282.81 L54.25,282.61 L52.63,282.42 L51.00,282.24 L49.38,282.08 L47.76,281.94 L46.14,281.82 L44.52,281.71 L42.89,281.62 L41.27,281.55 L39.65,281.49 L38.03,281.45 L36.40,281.43 L34.78,281.42 L33.16,281.43 L31.54,281.45 L29.91,281.48 L28.29,281.53 L26.67,281.59 Z" fill="#999999" fill-opacity="0.4"/>
<path d="M26.67,273.83 L28.29,273.92 L29.91,274.01 L31.54,274.11 L33.16,274.20 L34.78,274.29 L36.40,274.39 L38.03,274.48 L39.65,274.58 L41.27,274.67 L42.89,274.76 L44.52,274.86 L46.14,274.95 L47.76,275.05 L49.38,275.14 L51.00,275.23 L52.63,275.33 L54.25,275.42 L55.87,275.52 L57.49,275.61 L59.12,275.70 L60.74,275.80 L62.36,275.89 L63.98,275.99 L65.60,276.08 L67.23,276.17 L68.85,276.27 L70.47,276.36 L72.09,276.45 L73.72,276.55 L75.34,276.64 L76.96,276.74 L78.58,276.83 L80.21,276.92 L81.83,277.02 L83.45,277.11 L85.07,277.21 L86.69,277.30 L88.32,277.39 L89.94,277.49 L91.56,277.58 L93.18,277.68 L94.81,277.77 L96.43,277.86 L98.05,277.96 L99.67,278.05 L101.29,278.14 L102.92,278.24 L104.54,278.33 L106.16,278.43 L107.78,278.52 L109.41,278.61 L111.03,278.71 L112.65,278.80 L114.27,278.90 L115.90,278.99 L117.52,279.08 L119.14,279.18 L120.76,279.27 L122.38,279.37 L124.01,279.46 L125.63,279.55 L127.25,279.65 L128.87,279.74 L130.50,279.83 L132.12,279.93 L133.74,280.02 L135.36,280.12 L136.98,280.21 L138.61,280.30 L140.23,280.40 L141.85,280.49 L143.47,280.59 L145.10,280.68 L146.72,280.77 L148.34,280.87 L149.96,280.96 L151.59,281.06 L153.21,281.15 L154.83,281.24" fill="none" stroke="#FF0000" stroke-width="2.0"/>
</g>
<line x1="20.60" y1="203.80" x2="20.60" y2="311.75" stroke="#111111" stroke-width="1.25"/>
<line x1="20.05" y1="311.20" x2="160.70" y2="311.20" stroke="#111111" stroke-width="1.25"/>
<line x1="17.60" y1="206.10" x2="20.60" y2="206.10" stroke="#111111" stroke-width="0.95"/>
<text transform="translate(15.60,209.30) scale(1.0,1)" font-size="8.6" text-anchor="end" fill="#4D4D4D">6</text>
<line x1="17.60" y1="236.00" x2="20.60" y2="236.00" stroke="#111111" stroke-width="0.95"/>
<text transform="translate(15.60,239.20) scale(1.0,1)" font-size="8.6" text-anchor="end" fill="#4D4D4D">4</text>
<line x1="17.60" y1="265.90" x2="20.60" y2="265.90" stroke="#111111" stroke-width="0.95"/>
<text transform="translate(15.60,269.10) scale(1.0,1)" font-size="8.6" text-anchor="end" fill="#4D4D4D">2</text>
<line x1="17.60" y1="295.80" x2="20.60" y2="295.80" stroke="#111111" stroke-width="0.95"/>
<text transform="translate(15.60,299.00) scale(1.0,1)" font-size="8.6" text-anchor="end" fill="#4D4D4D">0</text>
<line x1="26.67" y1="311.20" x2="26.67" y2="313.90" stroke="#111111" stroke-width="0.95"/>
<text transform="translate(26.67,322.20) scale(1.0,1)" font-size="8.6" text-anchor="middle" fill="#4D4D4D">0</text>
<line x1="62.27" y1="311.20" x2="62.27" y2="313.90" stroke="#111111" stroke-width="0.95"/>
<text transform="translate(62.27,322.20) scale(1.0,1)" font-size="8.6" text-anchor="middle" fill="#4D4D4D">25</text>
<line x1="97.87" y1="311.20" x2="97.87" y2="313.90" stroke="#111111" stroke-width="0.95"/>
<text transform="translate(97.87,322.20) scale(1.0,1)" font-size="8.6" text-anchor="middle" fill="#4D4D4D">50</text>
<line x1="133.47" y1="311.20" x2="133.47" y2="313.90" stroke="#111111" stroke-width="0.95"/>
<text transform="translate(133.47,322.20) scale(1.0,1)" font-size="8.6" text-anchor="middle" fill="#4D4D4D">75</text>
<text transform="translate(90.65,333.80) scale(1.057,1)" font-size="10.0" text-anchor="middle" fill="#000">Storage Time (days)</text>
<text transform="translate(6.32,257.50) scale(1.0,1) rotate(-90)" font-size="10.5" text-anchor="middle" fill="#000">g</text>
<text transform="translate(196.75,183.20) scale(1.0,1)" font-size="12.63" text-anchor="start" fill="#000" font-weight="bold">F. Cellulase</text>
<text transform="translate(196.75,196.40) scale(1.0,1)" font-size="7.63" text-anchor="start" fill="#1a1a1a">R² = 0.539 , p = 0.097 , Model = L</text>
<clipPath id="clipF"><rect x="196.75" y="203.80" width="137.95" height="107.40"/></clipPath>
<g clip-path="url(#clipF)">
<line x1="203.94" y1="235.32" x2="203.94" y2="248.87" stroke="#000000" stroke-width="1.2"/>
<ellipse cx="203.94" cy="242.09" rx="2.2" ry="2.1" fill="#000000"/>
<line x1="228.72" y1="227.27" x2="228.72" y2="243.74" stroke="#000000" stroke-width="1.2"/>
<ellipse cx="228.72" cy="235.51" rx="2.2" ry="2.1" fill="#000000"/>
<line x1="253.50" y1="255.27" x2="253.50" y2="271.37" stroke="#008B00" stroke-width="1.2"/>
<ellipse cx="253.50" cy="263.32" rx="2.2" ry="2.1" fill="#008B00"/>
<line x1="278.28" y1="258.20" x2="278.28" y2="276.86" stroke="#008B00" stroke-width="1.2"/>
<ellipse cx="278.28" cy="267.53" rx="2.2" ry="2.1" fill="#008B00"/>
<line x1="303.06" y1="236.79" x2="303.06" y2="256.19" stroke="#000000" stroke-width="1.2"/>
<ellipse cx="303.06" cy="246.49" rx="2.2" ry="2.1" fill="#000000"/>
<line x1="327.84" y1="275.40" x2="327.84" y2="301.39" stroke="#008B00" stroke-width="1.2"/>
<ellipse cx="327.84" cy="288.39" rx="2.2" ry="2.1" fill="#008B00"/>
<path d="M203.94,208.27 L205.51,209.26 L207.08,210.24 L208.65,211.22 L210.21,212.19 L211.78,213.16 L213.35,214.13 L214.92,215.09 L216.49,216.04 L218.06,216.98 L219.62,217.92 L221.19,218.85 L222.76,219.78 L224.33,220.70 L225.90,221.60 L227.47,222.50 L229.03,223.39 L230.60,224.27 L232.17,225.14 L233.74,226.00 L235.31,226.85 L236.88,227.69 L238.44,228.51 L240.01,229.32 L241.58,230.11 L243.15,230.90 L244.72,231.66 L246.29,232.41 L247.85,233.14 L249.42,233.86 L250.99,234.55 L252.56,235.23 L254.13,235.89 L255.70,236.53 L257.26,237.15 L258.83,237.74 L260.40,238.32 L261.97,238.87 L263.54,239.41 L265.11,239.92 L266.67,240.40 L268.24,240.87 L269.81,241.31 L271.38,241.73 L272.95,242.13 L274.52,242.51 L276.08,242.87 L277.65,243.20 L279.22,243.52 L280.79,243.82 L282.36,244.09 L283.93,244.35 L285.49,244.60 L287.06,244.82 L288.63,245.03 L290.20,245.22 L291.77,245.40 L293.34,245.57 L294.90,245.72 L296.47,245.86 L298.04,245.98 L299.61,246.10 L301.18,246.20 L302.75,246.30 L304.31,246.38 L305.88,246.45 L307.45,246.52 L309.02,246.58 L310.59,246.62 L312.16,246.67 L313.72,246.70 L315.29,246.73 L316.86,246.75 L318.43,246.76 L320.00,246.77 L321.57,246.78 L323.13,246.78 L324.70,246.77 L326.27,246.76 L327.84,246.74 L327.84,305.96 L326.27,304.97 L324.70,303.99 L323.13,303.01 L321.57,302.03 L320.00,301.07 L318.43,300.10 L316.86,299.14 L315.29,298.19 L313.72,297.25 L312.16,296.31 L310.59,295.38 L309.02,294.45 L307.45,293.54 L305.88,292.63 L304.31,291.73 L302.75,290.84 L301.18,289.96 L299.61,289.09 L298.04,288.24 L296.47,287.39 L294.90,286.55 L293.34,285.73 L291.77,284.92 L290.20,284.13 L288.63,283.35 L287.06,282.59 L285.49,281.84 L283.93,281.11 L282.36,280.40 L280.79,279.70 L279.22,279.02 L277.65,278.37 L276.08,277.73 L274.52,277.12 L272.95,276.52 L271.38,275.95 L269.81,275.39 L268.24,274.86 L266.67,274.36 L265.11,273.87 L263.54,273.41 L261.97,272.97 L260.40,272.55 L258.83,272.15 L257.26,271.78 L255.70,271.42 L254.13,271.09 L252.56,270.77 L250.99,270.48 L249.42,270.20 L247.85,269.94 L246.29,269.70 L244.72,269.48 L243.15,269.27 L241.58,269.08 L240.01,268.90 L238.44,268.74 L236.88,268.59 L235.31,268.45 L233.74,268.32 L232.17,268.21 L230.60,268.11 L229.03,268.02 L227.47,267.93 L225.90,267.86 L224.33,267.79 L222.76,267.74 L221.19,267.69 L219.62,267.65 L218.06,267.62 L216.49,267.59 L214.92,267.57 L213.35,267.55 L211.78,267.54 L210.21,267.54 L208.65,267.54 L207.08,267.55 L205.51,267.56 L203.94,267.58 Z" fill="#999999" fill-opacity="0.4"/>
<path d="M203.94,237.92 L205.51,238.41 L207.08,238.89 L208.65,239.38 L210.21,239.87 L211.78,240.35 L213.35,240.84 L214.92,241.33 L216.49,241.81 L218.06,242.30 L219.62,242.79 L221.19,243.27 L222.76,243.76 L224.33,244.25 L225.90,244.73 L227.47,245.22 L229.03,245.70 L230.60,246.19 L232.17,246.68 L233.74,247.16 L235.31,247.65 L236.88,248.14 L238.44,248.62 L240.01,249.11 L241.58,249.60 L243.15,250.08 L244.72,250.57 L246.29,251.06 L247.85,251.54 L249.42,252.03 L250.99,252.52 L252.56,253.00 L254.13,253.49 L255.70,253.97 L257.26,254.46 L258.83,254.95 L260.40,255.43 L261.97,255.92 L263.54,256.41 L265.11,256.89 L266.67,257.38 L268.24,257.87 L269.81,258.35 L271.38,258.84 L272.95,259.33 L274.52,259.81 L276.08,260.30 L277.65,260.79 L279.22,261.27 L280.79,261.76 L282.36,262.24 L283.93,262.73 L285.49,263.22 L287.06,263.70 L288.63,264.19 L290.20,264.68 L291.77,265.16 L293.34,265.65 L294.90,266.14 L296.47,266.62 L298.04,267.11 L299.61,267.60 L301.18,268.08 L302.75,268.57 L304.31,269.06 L305.88,269.54 L307.45,270.03 L309.02,270.51 L310.59,271.00 L312.16,271.49 L313.72,271.97 L315.29,272.46 L316.86,272.95 L318.43,273.43 L320.00,273.92 L321.57,274.41 L323.13,274.89 L324.70,275.38 L326.27,275.87 L327.84,276.35" fill="none" stroke="#FF0000" stroke-width="2.0"/>
</g>
<line x1="196.75" y1="203.80" x2="196.75" y2="311.75" stroke="#111111" stroke-width="1.25"/>
<line x1="196.20" y1="311.20" x2="334.70" y2="311.20" stroke="#111111" stroke-width="1.25"/>
<line x1="193.75" y1="220.50" x2="196.75" y2="220.50" stroke="#111111" stroke-width="0.95"/>
<text transform="translate(191.75,223.70) scale(1.0,1)" font-size="8.6" text-anchor="end" fill="#4D4D4D">1</text>
<line x1="193.75" y1="238.80" x2="196.75" y2="238.80" stroke="#111111" stroke-width="0.95"/>
<text transform="translate(191.75,242.00) scale(1.0,1)" font-size="8.6" text-anchor="end" fill="#4D4D4D">0</text>
<line x1="193.75" y1="257.10" x2="196.75" y2="257.10" stroke="#111111" stroke-width="0.95"/>
<text transform="translate(191.75,260.30) scale(1.0,1)" font-size="8.6" text-anchor="end" fill="#4D4D4D">-1</text>
<line x1="193.75" y1="275.40" x2="196.75" y2="275.40" stroke="#111111" stroke-width="0.95"/>
<text transform="translate(191.75,278.60) scale(1.0,1)" font-size="8.6" text-anchor="end" fill="#4D4D4D">-2</text>
<line x1="193.75" y1="293.70" x2="196.75" y2="293.70" stroke="#111111" stroke-width="0.95"/>
<text transform="translate(191.75,296.90) scale(1.0,1)" font-size="8.6" text-anchor="end" fill="#4D4D4D">-3</text>
<line x1="203.94" y1="311.20" x2="203.94" y2="313.90" stroke="#111111" stroke-width="0.95"/>
<text transform="translate(203.94,322.20) scale(1.0,1)" font-size="8.6" text-anchor="middle" fill="#4D4D4D">0</text>
<line x1="245.24" y1="311.20" x2="245.24" y2="313.90" stroke="#111111" stroke-width="0.95"/>
<text transform="translate(245.24,322.20) scale(1.0,1)" font-size="8.6" text-anchor="middle" fill="#4D4D4D">5</text>
<line x1="286.54" y1="311.20" x2="286.54" y2="313.90" stroke="#111111" stroke-width="0.95"/>
<text transform="translate(286.54,322.20) scale(1.0,1)" font-size="8.6" text-anchor="middle" fill="#4D4D4D">10</text>
<line x1="327.84" y1="311.20" x2="327.84" y2="313.90" stroke="#111111" stroke-width="0.95"/>
<text transform="translate(327.84,322.20) scale(1.0,1)" font-size="8.6" text-anchor="middle" fill="#4D4D4D">15</text>
<text transform="translate(265.73,333.80) scale(1.057,1)" font-size="10.0" text-anchor="middle" fill="#000">Storage Time (days)</text>
<text transform="translate(179.60,257.50) scale(1.0,1) rotate(-90)" font-size="10.5" text-anchor="middle" fill="#000">g</text>
<text transform="translate(367.10,183.20) scale(1.0,1)" font-size="12.63" text-anchor="start" fill="#000" font-weight="bold">G. GSH-reductase</text>
<text transform="translate(367.10,196.40) scale(1.0,1)" font-size="7.63" text-anchor="start" fill="#1a1a1a">R² = 0.018 , p = 0.595 , Model = L</text>
<clipPath id="clipG"><rect x="367.10" y="203.80" width="140.60" height="107.40"/></clipPath>
<g clip-path="url(#clipG)">
<line x1="373.67" y1="296.75" x2="373.67" y2="300.80" stroke="#000000" stroke-width="1.2"/>
<ellipse cx="373.67" cy="298.77" rx="2.2" ry="2.1" fill="#000000"/>
<line x1="376.52" y1="262.86" x2="376.52" y2="272.85" stroke="#008B00" stroke-width="1.2"/>
<ellipse cx="376.52" cy="267.86" rx="2.2" ry="2.1" fill="#008B00"/>
<line x1="377.94" y1="268.12" x2="377.94" y2="278.93" stroke="#008B00" stroke-width="1.2"/>
<ellipse cx="377.94" cy="273.52" rx="2.2" ry="2.1" fill="#008B00"/>
<line x1="382.21" y1="268.26" x2="382.21" y2="279.06" stroke="#008B00" stroke-width="1.2"/>
<ellipse cx="382.21" cy="273.66" rx="2.2" ry="2.1" fill="#008B00"/>
<line x1="379.37" y1="281.62" x2="379.37" y2="289.73" stroke="#008B00" stroke-width="1.2"/>
<ellipse cx="379.37" cy="285.68" rx="2.2" ry="2.1" fill="#008B00"/>
<line x1="380.79" y1="282.98" x2="380.79" y2="291.07" stroke="#008B00" stroke-width="1.2"/>
<ellipse cx="380.79" cy="287.02" rx="2.2" ry="2.1" fill="#008B00"/>
<line x1="383.64" y1="282.30" x2="383.64" y2="290.40" stroke="#008B00" stroke-width="1.2"/>
<ellipse cx="383.64" cy="286.35" rx="2.2" ry="2.1" fill="#008B00"/>
<line x1="385.06" y1="286.35" x2="385.06" y2="295.80" stroke="#000000" stroke-width="1.2"/>
<ellipse cx="385.06" cy="291.07" rx="2.2" ry="2.1" fill="#000000"/>
<line x1="386.49" y1="291.07" x2="386.49" y2="300.52" stroke="#000000" stroke-width="1.2"/>
<ellipse cx="386.49" cy="295.80" rx="2.2" ry="2.1" fill="#000000"/>
<line x1="387.91" y1="297.42" x2="387.91" y2="305.52" stroke="#000000" stroke-width="1.2"/>
<ellipse cx="387.91" cy="301.47" rx="2.2" ry="2.1" fill="#000000"/>
<line x1="390.76" y1="286.21" x2="390.76" y2="299.71" stroke="#000000" stroke-width="1.2"/>
<ellipse cx="390.76" cy="292.96" rx="2.2" ry="2.1" fill="#000000"/>
<line x1="395.03" y1="279.46" x2="395.03" y2="292.96" stroke="#000000" stroke-width="1.2"/>
<ellipse cx="395.03" cy="286.21" rx="2.2" ry="2.1" fill="#000000"/>
<line x1="402.15" y1="286.89" x2="402.15" y2="299.04" stroke="#000000" stroke-width="1.2"/>
<ellipse cx="402.15" cy="292.96" rx="2.2" ry="2.1" fill="#000000"/>
<line x1="403.57" y1="207.92" x2="403.57" y2="241.66" stroke="#008B00" stroke-width="1.2"/>
<ellipse cx="403.57" cy="224.79" rx="2.2" ry="2.1" fill="#008B00"/>
<line x1="409.27" y1="272.04" x2="409.27" y2="286.62" stroke="#008B00" stroke-width="1.2"/>
<ellipse cx="409.27" cy="279.33" rx="2.2" ry="2.1" fill="#008B00"/>
<line x1="416.39" y1="271.90" x2="416.39" y2="285.40" stroke="#008B00" stroke-width="1.2"/>
<ellipse cx="416.39" cy="278.65" rx="2.2" ry="2.1" fill="#008B00"/>
<line x1="459.11" y1="270.56" x2="459.11" y2="290.54" stroke="#000000" stroke-width="1.2"/>
<ellipse cx="459.11" cy="280.55" rx="2.2" ry="2.1" fill="#000000"/>
<line x1="501.83" y1="270.15" x2="501.83" y2="289.05" stroke="#008B00" stroke-width="1.2"/>
<ellipse cx="501.83" cy="279.60" rx="2.2" ry="2.1" fill="#008B00"/>
<path d="M373.67,272.86 L375.29,272.98 L376.91,273.09 L378.54,273.19 L380.16,273.27 L381.78,273.34 L383.40,273.39 L385.03,273.42 L386.65,273.44 L388.27,273.44 L389.89,273.42 L391.52,273.38 L393.14,273.32 L394.76,273.24 L396.38,273.14 L398.00,273.02 L399.63,272.88 L401.25,272.72 L402.87,272.54 L404.49,272.34 L406.12,272.12 L407.74,271.89 L409.36,271.64 L410.98,271.37 L412.60,271.08 L414.23,270.79 L415.85,270.47 L417.47,270.15 L419.09,269.81 L420.72,269.46 L422.34,269.10 L423.96,268.73 L425.58,268.35 L427.21,267.97 L428.83,267.57 L430.45,267.17 L432.07,266.76 L433.69,266.34 L435.32,265.92 L436.94,265.49 L438.56,265.06 L440.18,264.62 L441.81,264.18 L443.43,263.73 L445.05,263.28 L446.67,262.83 L448.29,262.37 L449.92,261.91 L451.54,261.45 L453.16,260.98 L454.78,260.51 L456.41,260.04 L458.03,259.57 L459.65,259.09 L461.27,258.62 L462.90,258.14 L464.52,257.65 L466.14,257.17 L467.76,256.69 L469.38,256.20 L471.01,255.71 L472.63,255.22 L474.25,254.73 L475.87,254.24 L477.50,253.75 L479.12,253.25 L480.74,252.76 L482.36,252.26 L483.98,251.77 L485.61,251.27 L487.23,250.77 L488.85,250.27 L490.47,249.77 L492.10,249.27 L493.72,248.77 L495.34,248.26 L496.96,247.76 L498.59,247.26 L500.21,246.75 L501.83,246.25 L501.83,303.50 L500.21,303.21 L498.59,302.92 L496.96,302.63 L495.34,302.33 L493.72,302.04 L492.10,301.75 L490.47,301.46 L488.85,301.18 L487.23,300.89 L485.61,300.60 L483.98,300.31 L482.36,300.03 L480.74,299.75 L479.12,299.46 L477.50,299.18 L475.87,298.90 L474.25,298.62 L472.63,298.34 L471.01,298.06 L469.38,297.79 L467.76,297.51 L466.14,297.24 L464.52,296.97 L462.90,296.70 L461.27,296.43 L459.65,296.17 L458.03,295.90 L456.41,295.64 L454.78,295.38 L453.16,295.12 L451.54,294.87 L449.92,294.62 L448.29,294.37 L446.67,294.12 L445.05,293.88 L443.43,293.64 L441.81,293.41 L440.18,293.18 L438.56,292.95 L436.94,292.73 L435.32,292.52 L433.69,292.31 L432.07,292.10 L430.45,291.91 L428.83,291.72 L427.21,291.53 L425.58,291.36 L423.96,291.19 L422.34,291.03 L420.72,290.88 L419.09,290.75 L417.47,290.62 L415.85,290.51 L414.23,290.41 L412.60,290.32 L410.98,290.25 L409.36,290.19 L407.74,290.15 L406.12,290.13 L404.49,290.12 L402.87,290.13 L401.25,290.17 L399.63,290.22 L398.00,290.29 L396.38,290.38 L394.76,290.50 L393.14,290.63 L391.52,290.78 L389.89,290.95 L388.27,291.15 L386.65,291.36 L385.03,291.59 L383.40,291.83 L381.78,292.10 L380.16,292.37 L378.54,292.67 L376.91,292.98 L375.29,293.30 L373.67,293.63 Z" fill="#999999" fill-opacity="0.4"/>
<path d="M373.67,283.25 L375.29,283.14 L376.91,283.03 L378.54,282.93 L380.16,282.82 L381.78,282.72 L383.40,282.61 L385.03,282.50 L386.65,282.40 L388.27,282.29 L389.89,282.19 L391.52,282.08 L393.14,281.97 L394.76,281.87 L396.38,281.76 L398.00,281.66 L399.63,281.55 L401.25,281.44 L402.87,281.34 L404.49,281.23 L406.12,281.13 L407.74,281.02 L409.36,280.91 L410.98,280.81 L412.60,280.70 L414.23,280.60 L415.85,280.49 L417.47,280.38 L419.09,280.28 L420.72,280.17 L422.34,280.07 L423.96,279.96 L425.58,279.85 L427.21,279.75 L428.83,279.64 L430.45,279.54 L432.07,279.43 L433.69,279.32 L435.32,279.22 L436.94,279.11 L438.56,279.01 L440.18,278.90 L441.81,278.80 L443.43,278.69 L445.05,278.58 L446.67,278.48 L448.29,278.37 L449.92,278.27 L451.54,278.16 L453.16,278.05 L454.78,277.95 L456.41,277.84 L458.03,277.74 L459.65,277.63 L461.27,277.52 L462.90,277.42 L464.52,277.31 L466.14,277.21 L467.76,277.10 L469.38,276.99 L471.01,276.89 L472.63,276.78 L474.25,276.68 L475.87,276.57 L477.50,276.46 L479.12,276.36 L480.74,276.25 L482.36,276.15 L483.98,276.04 L485.61,275.93 L487.23,275.83 L488.85,275.72 L490.47,275.62 L492.10,275.51 L493.72,275.40 L495.34,275.30 L496.96,275.19 L498.59,275.09 L500.21,274.98 L501.83,274.88" fill="none" stroke="#0000FF" stroke-width="2.0"/>
</g>
<line x1="367.10" y1="203.80" x2="367.10" y2="311.75" stroke="#111111" stroke-width="1.25"/>
<line x1="366.55" y1="311.20" x2="507.70" y2="311.20" stroke="#111111" stroke-width="1.25"/>
<line x1="364.10" y1="217.50" x2="367.10" y2="217.50" stroke="#111111" stroke-width="0.95"/>
<text transform="translate(362.10,220.70) scale(1.0,1)" font-size="8.6" text-anchor="end" fill="#4D4D4D">6</text>
<line x1="364.10" y1="244.50" x2="367.10" y2="244.50" stroke="#111111" stroke-width="0.95"/>
<text transform="translate(362.10,247.70) scale(1.0,1)" font-size="8.6" text-anchor="end" fill="#4D4D4D">4</text>
<line x1="364.10" y1="271.50" x2="367.10" y2="271.50" stroke="#111111" stroke-width="0.95"/>
<text transform="translate(362.10,274.70) scale(1.0,1)" font-size="8.6" text-anchor="end" fill="#4D4D4D">2</text>
<line x1="364.10" y1="298.50" x2="367.10" y2="298.50" stroke="#111111" stroke-width="0.95"/>
<text transform="translate(362.10,301.70) scale(1.0,1)" font-size="8.6" text-anchor="end" fill="#4D4D4D">0</text>
<line x1="373.67" y1="311.20" x2="373.67" y2="313.90" stroke="#111111" stroke-width="0.95"/>
<text transform="translate(373.67,322.20) scale(1.0,1)" font-size="8.6" text-anchor="middle" fill="#4D4D4D">0</text>
<line x1="409.27" y1="311.20" x2="409.27" y2="313.90" stroke="#111111" stroke-width="0.95"/>
<text transform="translate(409.27,322.20) scale(1.0,1)" font-size="8.6" text-anchor="middle" fill="#4D4D4D">25</text>
<line x1="444.87" y1="311.20" x2="444.87" y2="313.90" stroke="#111111" stroke-width="0.95"/>
<text transform="translate(444.87,322.20) scale(1.0,1)" font-size="8.6" text-anchor="middle" fill="#4D4D4D">50</text>
<line x1="480.47" y1="311.20" x2="480.47" y2="313.90" stroke="#111111" stroke-width="0.95"/>
<text transform="translate(480.47,322.20) scale(1.0,1)" font-size="8.6" text-anchor="middle" fill="#4D4D4D">75</text>
<text transform="translate(437.40,333.80) scale(1.057,1)" font-size="10.0" text-anchor="middle" fill="#000">Storage Time (days)</text>
<text transform="translate(352.82,257.50) scale(1.0,1) rotate(-90)" font-size="10.5" text-anchor="middle" fill="#000">g</text>
<text transform="translate(543.60,183.20) scale(1.0,1)" font-size="12.63" text-anchor="start" fill="#000" font-weight="bold">H. Glutathione</text>
<text transform="translate(543.60,196.40) scale(1.0,1)" font-size="7.63" text-anchor="start" fill="#1a1a1a">R² = 0.189 , p = 0.511 , Model = Q</text>
<clipPath id="clipH"><rect x="543.60" y="203.80" width="137.10" height="107.40"/></clipPath>
<g clip-path="url(#clipH)">
<line x1="550.05" y1="266.92" x2="550.05" y2="278.30" stroke="#000000" stroke-width="1.2"/>
<ellipse cx="550.05" cy="272.61" rx="2.2" ry="2.1" fill="#000000"/>
<line x1="562.55" y1="220.99" x2="562.55" y2="243.74" stroke="#008B00" stroke-width="1.2"/>
<ellipse cx="562.55" cy="232.37" rx="2.2" ry="2.1" fill="#008B00"/>
<line x1="570.88" y1="260.60" x2="570.88" y2="280.83" stroke="#000000" stroke-width="1.2"/>
<ellipse cx="570.88" cy="270.71" rx="2.2" ry="2.1" fill="#000000"/>
<line x1="575.05" y1="228.57" x2="575.05" y2="249.22" stroke="#008B00" stroke-width="1.2"/>
<ellipse cx="575.05" cy="238.90" rx="2.2" ry="2.1" fill="#008B00"/>
<line x1="587.55" y1="207.93" x2="587.55" y2="234.05" stroke="#008B00" stroke-width="1.2"/>
<ellipse cx="587.55" cy="220.99" rx="2.2" ry="2.1" fill="#008B00"/>
<line x1="591.72" y1="252.80" x2="591.72" y2="269.24" stroke="#000000" stroke-width="1.2"/>
<ellipse cx="591.72" cy="261.02" rx="2.2" ry="2.1" fill="#000000"/>
<line x1="600.05" y1="254.49" x2="600.05" y2="272.19" stroke="#000000" stroke-width="1.2"/>
<ellipse cx="600.05" cy="263.34" rx="2.2" ry="2.1" fill="#000000"/>
<line x1="612.55" y1="232.58" x2="612.55" y2="251.96" stroke="#008B00" stroke-width="1.2"/>
<ellipse cx="612.55" cy="242.27" rx="2.2" ry="2.1" fill="#008B00"/>
<line x1="633.39" y1="251.75" x2="633.39" y2="268.19" stroke="#000000" stroke-width="1.2"/>
<ellipse cx="633.39" cy="259.97" rx="2.2" ry="2.1" fill="#000000"/>
<line x1="654.22" y1="242.90" x2="654.22" y2="264.39" stroke="#000000" stroke-width="1.2"/>
<ellipse cx="654.22" cy="253.65" rx="2.2" ry="2.1" fill="#000000"/>
<line x1="675.06" y1="260.81" x2="675.06" y2="282.72" stroke="#000000" stroke-width="1.2"/>
<ellipse cx="675.06" cy="271.77" rx="2.2" ry="2.1" fill="#000000"/>
<path d="M550.05,229.95 L551.63,230.49 L553.21,230.98 L554.80,231.45 L556.38,231.87 L557.96,232.25 L559.54,232.59 L561.13,232.88 L562.71,233.13 L564.29,233.33 L565.87,233.48 L567.46,233.58 L569.04,233.64 L570.62,233.65 L572.20,233.61 L573.79,233.52 L575.37,233.40 L576.95,233.23 L578.53,233.03 L580.12,232.80 L581.70,232.55 L583.28,232.27 L584.86,231.98 L586.45,231.69 L588.03,231.38 L589.61,231.08 L591.19,230.79 L592.77,230.51 L594.36,230.24 L595.94,229.99 L597.52,229.76 L599.10,229.55 L600.69,229.37 L602.27,229.21 L603.85,229.09 L605.43,229.00 L607.02,228.94 L608.60,228.91 L610.18,228.92 L611.76,228.96 L613.35,229.03 L614.93,229.14 L616.51,229.28 L618.09,229.46 L619.68,229.66 L621.26,229.90 L622.84,230.16 L624.42,230.45 L626.01,230.77 L627.59,231.11 L629.17,231.47 L630.75,231.85 L632.34,232.24 L633.92,232.65 L635.50,233.06 L637.08,233.48 L638.66,233.90 L640.25,234.32 L641.83,234.73 L643.41,235.13 L644.99,235.52 L646.58,235.90 L648.16,236.25 L649.74,236.58 L651.32,236.88 L652.91,237.15 L654.49,237.40 L656.07,237.61 L657.65,237.78 L659.24,237.92 L660.82,238.03 L662.40,238.10 L663.98,238.13 L665.57,238.13 L667.15,238.09 L668.73,238.01 L670.31,237.90 L671.90,237.76 L673.48,237.58 L675.06,237.37 L675.06,305.91 L673.48,303.54 L671.90,301.26 L670.31,299.06 L668.73,296.94 L667.15,294.90 L665.57,292.95 L663.98,291.08 L662.40,289.29 L660.82,287.58 L659.24,285.96 L657.65,284.42 L656.07,282.97 L654.49,281.59 L652.91,280.30 L651.32,279.08 L649.74,277.94 L648.16,276.88 L646.58,275.88 L644.99,274.95 L643.41,274.09 L641.83,273.28 L640.25,272.54 L638.66,271.84 L637.08,271.20 L635.50,270.60 L633.92,270.05 L632.34,269.53 L630.75,269.05 L629.17,268.60 L627.59,268.18 L626.01,267.78 L624.42,267.41 L622.84,267.06 L621.26,266.74 L619.68,266.43 L618.09,266.13 L616.51,265.86 L614.93,265.59 L613.35,265.35 L611.76,265.11 L610.18,264.89 L608.60,264.69 L607.02,264.49 L605.43,264.31 L603.85,264.15 L602.27,264.00 L600.69,263.87 L599.10,263.76 L597.52,263.67 L595.94,263.60 L594.36,263.56 L592.77,263.55 L591.19,263.57 L589.61,263.63 L588.03,263.73 L586.45,263.88 L584.86,264.08 L583.28,264.33 L581.70,264.64 L580.12,265.03 L578.53,265.48 L576.95,266.01 L575.37,266.62 L573.79,267.32 L572.20,268.11 L570.62,268.99 L569.04,269.97 L567.46,271.04 L565.87,272.20 L564.29,273.46 L562.71,274.82 L561.13,276.27 L559.54,277.82 L557.96,279.45 L556.38,281.18 L554.80,282.99 L553.21,284.90 L551.63,286.88 L550.05,288.95 Z" fill="#999999" fill-opacity="0.4"/>
<path d="M550.05,259.45 L551.63,258.68 L553.21,257.94 L554.80,257.22 L556.38,256.52 L557.96,255.85 L559.54,255.20 L561.13,254.58 L562.71,253.97 L564.29,253.40 L565.87,252.84 L567.46,252.31 L569.04,251.80 L570.62,251.32 L572.20,250.86 L573.79,250.42 L575.37,250.01 L576.95,249.62 L578.53,249.26 L580.12,248.91 L581.70,248.60 L583.28,248.30 L584.86,248.03 L586.45,247.78 L588.03,247.56 L589.61,247.36 L591.19,247.18 L592.77,247.03 L594.36,246.90 L595.94,246.79 L597.52,246.71 L599.10,246.65 L600.69,246.62 L602.27,246.61 L603.85,246.62 L605.43,246.66 L607.02,246.72 L608.60,246.80 L610.18,246.91 L611.76,247.04 L613.35,247.19 L614.93,247.37 L616.51,247.57 L618.09,247.80 L619.68,248.04 L621.26,248.32 L622.84,248.61 L624.42,248.93 L626.01,249.28 L627.59,249.64 L629.17,250.03 L630.75,250.45 L632.34,250.89 L633.92,251.35 L635.50,251.83 L637.08,252.34 L638.66,252.87 L640.25,253.43 L641.83,254.01 L643.41,254.61 L644.99,255.24 L646.58,255.89 L648.16,256.56 L649.74,257.26 L651.32,257.98 L652.91,258.73 L654.49,259.50 L656.07,260.29 L657.65,261.10 L659.24,261.94 L660.82,262.81 L662.40,263.69 L663.98,264.60 L665.57,265.54 L667.15,266.49 L668.73,267.48 L670.31,268.48 L671.90,269.51 L673.48,270.56 L675.06,271.64" fill="none" stroke="#0000FF" stroke-width="2.0"/>
</g>
<line x1="543.60" y1="203.80" x2="543.60" y2="311.75" stroke="#111111" stroke-width="1.25"/>
<line x1="543.05" y1="311.20" x2="680.70" y2="311.20" stroke="#111111" stroke-width="1.25"/>
<line x1="540.60" y1="209.19" x2="543.60" y2="209.19" stroke="#111111" stroke-width="0.95"/>
<text transform="translate(538.60,212.39) scale(1.0,1)" font-size="8.6" text-anchor="end" fill="#4D4D4D">3</text>
<line x1="540.60" y1="230.26" x2="543.60" y2="230.26" stroke="#111111" stroke-width="0.95"/>
<text transform="translate(538.60,233.46) scale(1.0,1)" font-size="8.6" text-anchor="end" fill="#4D4D4D">2</text>
<line x1="540.60" y1="251.33" x2="543.60" y2="251.33" stroke="#111111" stroke-width="0.95"/>
<text transform="translate(538.60,254.53) scale(1.0,1)" font-size="8.6" text-anchor="end" fill="#4D4D4D">1</text>
<line x1="540.60" y1="272.40" x2="543.60" y2="272.40" stroke="#111111" stroke-width="0.95"/>
<text transform="translate(538.60,275.60) scale(1.0,1)" font-size="8.6" text-anchor="end" fill="#4D4D4D">0</text>
<line x1="540.60" y1="293.47" x2="543.60" y2="293.47" stroke="#111111" stroke-width="0.95"/>
<text transform="translate(538.60,296.67) scale(1.0,1)" font-size="8.6" text-anchor="end" fill="#4D4D4D">-1</text>
<line x1="550.05" y1="311.20" x2="550.05" y2="313.90" stroke="#111111" stroke-width="0.95"/>
<text transform="translate(550.05,322.20) scale(1.0,1)" font-size="8.6" text-anchor="middle" fill="#4D4D4D">0</text>
<line x1="591.72" y1="311.20" x2="591.72" y2="313.90" stroke="#111111" stroke-width="0.95"/>
<text transform="translate(591.72,322.20) scale(1.0,1)" font-size="8.6" text-anchor="middle" fill="#4D4D4D">10</text>
<line x1="633.39" y1="311.20" x2="633.39" y2="313.90" stroke="#111111" stroke-width="0.95"/>
<text transform="translate(633.39,322.20) scale(1.0,1)" font-size="8.6" text-anchor="middle" fill="#4D4D4D">20</text>
<line x1="675.06" y1="311.20" x2="675.06" y2="313.90" stroke="#111111" stroke-width="0.95"/>
<text transform="translate(675.06,322.20) scale(1.0,1)" font-size="8.6" text-anchor="middle" fill="#4D4D4D">30</text>
<text transform="translate(612.15,333.80) scale(1.057,1)" font-size="10.0" text-anchor="middle" fill="#000">Storage Time (days)</text>
<text transform="translate(526.45,257.50) scale(1.0,1) rotate(-90)" font-size="10.5" text-anchor="middle" fill="#000">g</text>
<text transform="translate(23.40,356.40) scale(1.0,1)" font-size="12.63" text-anchor="start" fill="#000" font-weight="bold">I. Lipoxygenase</text>
<text transform="translate(23.40,369.60) scale(1.0,1)" font-size="7.63" text-anchor="start" fill="#1a1a1a">R² = 0.098 , p = 0.664 , Model = Q</text>
<clipPath id="clipI"><rect x="23.40" y="377.00" width="137.30" height="107.40"/></clipPath>
<g clip-path="url(#clipI)">
<line x1="30.05" y1="396.78" x2="30.05" y2="418.54" stroke="#000000" stroke-width="1.2"/>
<ellipse cx="30.05" cy="407.66" rx="2.2" ry="2.1" fill="#000000"/>
<line x1="34.66" y1="411.52" x2="34.66" y2="429.01" stroke="#000000" stroke-width="1.2"/>
<ellipse cx="34.66" cy="420.26" rx="2.2" ry="2.1" fill="#000000"/>
<line x1="39.27" y1="407.66" x2="39.27" y2="430.84" stroke="#000000" stroke-width="1.2"/>
<ellipse cx="39.27" cy="419.25" rx="2.2" ry="2.1" fill="#000000"/>
<line x1="43.87" y1="418.43" x2="43.87" y2="431.04" stroke="#008B00" stroke-width="1.2"/>
<ellipse cx="43.87" cy="424.74" rx="2.2" ry="2.1" fill="#008B00"/>
<line x1="48.48" y1="398.31" x2="48.48" y2="414.98" stroke="#000000" stroke-width="1.2"/>
<ellipse cx="48.48" cy="406.64" rx="2.2" ry="2.1" fill="#000000"/>
<line x1="53.08" y1="424.53" x2="53.08" y2="439.98" stroke="#008B00" stroke-width="1.2"/>
<ellipse cx="53.08" cy="432.26" rx="2.2" ry="2.1" fill="#008B00"/>
<line x1="57.69" y1="420.67" x2="57.69" y2="431.65" stroke="#008B00" stroke-width="1.2"/>
<ellipse cx="57.69" cy="426.16" rx="2.2" ry="2.1" fill="#008B00"/>
<line x1="62.29" y1="431.45" x2="62.29" y2="445.68" stroke="#008B00" stroke-width="1.2"/>
<ellipse cx="62.29" cy="438.56" rx="2.2" ry="2.1" fill="#008B00"/>
<line x1="71.50" y1="438.97" x2="71.50" y2="465.80" stroke="#008B00" stroke-width="1.2"/>
<ellipse cx="71.50" cy="452.39" rx="2.2" ry="2.1" fill="#008B00"/>
<line x1="80.71" y1="454.01" x2="80.71" y2="479.63" stroke="#008B00" stroke-width="1.2"/>
<ellipse cx="80.71" cy="466.82" rx="2.2" ry="2.1" fill="#008B00"/>
<line x1="89.92" y1="438.36" x2="89.92" y2="450.56" stroke="#008B00" stroke-width="1.2"/>
<ellipse cx="89.92" cy="444.46" rx="2.2" ry="2.1" fill="#008B00"/>
<line x1="99.13" y1="380.82" x2="99.13" y2="398.31" stroke="#000000" stroke-width="1.2"/>
<ellipse cx="99.13" cy="389.57" rx="2.2" ry="2.1" fill="#000000"/>
<line x1="117.55" y1="417.21" x2="117.55" y2="436.32" stroke="#008B00" stroke-width="1.2"/>
<ellipse cx="117.55" cy="426.77" rx="2.2" ry="2.1" fill="#008B00"/>
<line x1="122.16" y1="407.05" x2="122.16" y2="418.84" stroke="#000000" stroke-width="1.2"/>
<ellipse cx="122.16" cy="412.95" rx="2.2" ry="2.1" fill="#000000"/>
<line x1="135.97" y1="418.43" x2="135.97" y2="441.61" stroke="#008B00" stroke-width="1.2"/>
<ellipse cx="135.97" cy="430.02" rx="2.2" ry="2.1" fill="#008B00"/>
<line x1="154.39" y1="426.97" x2="154.39" y2="439.17" stroke="#008B00" stroke-width="1.2"/>
<ellipse cx="154.39" cy="433.07" rx="2.2" ry="2.1" fill="#008B00"/>
<path d="M30.05,394.76 L31.63,396.70 L33.20,398.55 L34.78,400.33 L36.35,402.02 L37.92,403.62 L39.50,405.13 L41.07,406.55 L42.65,407.88 L44.22,409.11 L45.79,410.24 L47.37,411.27 L48.94,412.21 L50.52,413.06 L52.09,413.81 L53.66,414.47 L55.24,415.05 L56.81,415.56 L58.38,415.99 L59.96,416.36 L61.53,416.67 L63.11,416.94 L64.68,417.15 L66.25,417.33 L67.83,417.48 L69.40,417.59 L70.98,417.68 L72.55,417.75 L74.12,417.80 L75.70,417.84 L77.27,417.86 L78.84,417.87 L80.42,417.86 L81.99,417.85 L83.57,417.83 L85.14,417.81 L86.71,417.77 L88.29,417.73 L89.86,417.68 L91.44,417.62 L93.01,417.56 L94.58,417.48 L96.16,417.40 L97.73,417.31 L99.30,417.20 L100.88,417.08 L102.45,416.94 L104.03,416.79 L105.60,416.62 L107.17,416.43 L108.75,416.21 L110.32,415.96 L111.90,415.69 L113.47,415.38 L115.04,415.03 L116.62,414.65 L118.19,414.22 L119.77,413.74 L121.34,413.21 L122.91,412.63 L124.49,411.99 L126.06,411.29 L127.63,410.53 L129.21,409.70 L130.78,408.80 L132.36,407.83 L133.93,406.79 L135.50,405.68 L137.08,404.49 L138.65,403.22 L140.23,401.88 L141.80,400.47 L143.37,398.98 L144.95,397.41 L146.52,395.77 L148.09,394.06 L149.67,392.27 L151.24,390.41 L152.82,388.48 L154.39,386.47 L154.39,451.83 L152.82,451.35 L151.24,450.91 L149.67,450.50 L148.09,450.12 L146.52,449.77 L144.95,449.46 L143.37,449.18 L141.80,448.93 L140.23,448.72 L138.65,448.55 L137.08,448.41 L135.50,448.30 L133.93,448.23 L132.36,448.19 L130.78,448.19 L129.21,448.21 L127.63,448.26 L126.06,448.34 L124.49,448.44 L122.91,448.56 L121.34,448.70 L119.77,448.85 L118.19,449.01 L116.62,449.18 L115.04,449.35 L113.47,449.52 L111.90,449.68 L110.32,449.84 L108.75,449.99 L107.17,450.13 L105.60,450.25 L104.03,450.35 L102.45,450.43 L100.88,450.49 L99.30,450.52 L97.73,450.52 L96.16,450.50 L94.58,450.45 L93.01,450.36 L91.44,450.24 L89.86,450.10 L88.29,449.91 L86.71,449.70 L85.14,449.45 L83.57,449.17 L81.99,448.86 L80.42,448.51 L78.84,448.13 L77.27,447.73 L75.70,447.29 L74.12,446.83 L72.55,446.34 L70.98,445.83 L69.40,445.30 L67.83,444.76 L66.25,444.20 L64.68,443.64 L63.11,443.08 L61.53,442.52 L59.96,441.97 L58.38,441.44 L56.81,440.93 L55.24,440.45 L53.66,440.01 L52.09,439.61 L50.52,439.25 L48.94,438.95 L47.37,438.70 L45.79,438.51 L44.22,438.38 L42.65,438.30 L41.07,438.28 L39.50,438.31 L37.92,438.39 L36.35,438.52 L34.78,438.70 L33.20,438.92 L31.63,439.19 L30.05,439.49 Z" fill="#999999" fill-opacity="0.4"/>
<path d="M30.05,417.13 L31.63,417.94 L33.20,418.74 L34.78,419.51 L36.35,420.27 L37.92,421.00 L39.50,421.72 L41.07,422.41 L42.65,423.09 L44.22,423.74 L45.79,424.37 L47.37,424.99 L48.94,425.58 L50.52,426.15 L52.09,426.71 L53.66,427.24 L55.24,427.75 L56.81,428.24 L58.38,428.71 L59.96,429.17 L61.53,429.60 L63.11,430.01 L64.68,430.40 L66.25,430.77 L67.83,431.12 L69.40,431.45 L70.98,431.76 L72.55,432.05 L74.12,432.31 L75.70,432.56 L77.27,432.79 L78.84,433.00 L80.42,433.19 L81.99,433.35 L83.57,433.50 L85.14,433.63 L86.71,433.74 L88.29,433.82 L89.86,433.89 L91.44,433.93 L93.01,433.96 L94.58,433.96 L96.16,433.95 L97.73,433.91 L99.30,433.86 L100.88,433.78 L102.45,433.69 L104.03,433.57 L105.60,433.43 L107.17,433.28 L108.75,433.10 L110.32,432.90 L111.90,432.69 L113.47,432.45 L115.04,432.19 L116.62,431.91 L118.19,431.61 L119.77,431.29 L121.34,430.95 L122.91,430.60 L124.49,430.22 L126.06,429.82 L127.63,429.40 L129.21,428.96 L130.78,428.49 L132.36,428.01 L133.93,427.51 L135.50,426.99 L137.08,426.45 L138.65,425.89 L140.23,425.30 L141.80,424.70 L143.37,424.08 L144.95,423.44 L146.52,422.77 L148.09,422.09 L149.67,421.38 L151.24,420.66 L152.82,419.92 L154.39,419.15" fill="none" stroke="#FF0000" stroke-width="2.0"/>
</g>
<line x1="23.40" y1="377.00" x2="23.40" y2="484.95" stroke="#111111" stroke-width="1.25"/>
<line x1="22.85" y1="484.40" x2="160.70" y2="484.40" stroke="#111111" stroke-width="1.25"/>
<line x1="20.40" y1="383.67" x2="23.40" y2="383.67" stroke="#111111" stroke-width="0.95"/>
<text transform="translate(18.40,386.87) scale(1.0,1)" font-size="8.6" text-anchor="end" fill="#4D4D4D">1</text>
<line x1="20.40" y1="404.00" x2="23.40" y2="404.00" stroke="#111111" stroke-width="0.95"/>
<text transform="translate(18.40,407.20) scale(1.0,1)" font-size="8.6" text-anchor="end" fill="#4D4D4D">0</text>
<line x1="20.40" y1="424.33" x2="23.40" y2="424.33" stroke="#111111" stroke-width="0.95"/>
<text transform="translate(18.40,427.53) scale(1.0,1)" font-size="8.6" text-anchor="end" fill="#4D4D4D">-1</text>
<line x1="20.40" y1="444.66" x2="23.40" y2="444.66" stroke="#111111" stroke-width="0.95"/>
<text transform="translate(18.40,447.86) scale(1.0,1)" font-size="8.6" text-anchor="end" fill="#4D4D4D">-2</text>
<line x1="20.40" y1="464.99" x2="23.40" y2="464.99" stroke="#111111" stroke-width="0.95"/>
<text transform="translate(18.40,468.19) scale(1.0,1)" font-size="8.6" text-anchor="end" fill="#4D4D4D">-3</text>
<line x1="25.45" y1="484.40" x2="25.45" y2="487.10" stroke="#111111" stroke-width="0.95"/>
<text transform="translate(25.45,495.40) scale(1.0,1)" font-size="8.6" text-anchor="middle" fill="#4D4D4D">0</text>
<line x1="71.50" y1="484.40" x2="71.50" y2="487.10" stroke="#111111" stroke-width="0.95"/>
<text transform="translate(71.50,495.40) scale(1.0,1)" font-size="8.6" text-anchor="middle" fill="#4D4D4D">10</text>
<line x1="117.55" y1="484.40" x2="117.55" y2="487.10" stroke="#111111" stroke-width="0.95"/>
<text transform="translate(117.55,495.40) scale(1.0,1)" font-size="8.6" text-anchor="middle" fill="#4D4D4D">20</text>
<text transform="translate(92.05,507.00) scale(1.057,1)" font-size="10.0" text-anchor="middle" fill="#000">Storage Time (days)</text>
<text transform="translate(6.25,430.70) scale(1.0,1) rotate(-90)" font-size="10.5" text-anchor="middle" fill="#000">g</text>
<text transform="translate(196.75,356.40) scale(1.0,1)" font-size="12.63" text-anchor="start" fill="#000" font-weight="bold">J. MDHAR</text>
<text transform="translate(196.75,369.60) scale(1.0,1)" font-size="7.63" text-anchor="start" fill="#1a1a1a">R² = 0.42 , p = 0.082 , Model = L</text>
<clipPath id="clipJ"><rect x="196.75" y="377.00" width="137.95" height="107.40"/></clipPath>
<g clip-path="url(#clipJ)">
<line x1="203.56" y1="448.41" x2="203.56" y2="466.77" stroke="#000000" stroke-width="1.2"/>
<ellipse cx="203.56" cy="457.59" rx="2.2" ry="2.1" fill="#000000"/>
<line x1="228.51" y1="441.12" x2="228.51" y2="470.82" stroke="#000000" stroke-width="1.2"/>
<ellipse cx="228.51" cy="455.97" rx="2.2" ry="2.1" fill="#000000"/>
<line x1="233.50" y1="433.29" x2="233.50" y2="462.99" stroke="#000000" stroke-width="1.2"/>
<ellipse cx="233.50" cy="448.14" rx="2.2" ry="2.1" fill="#000000"/>
<line x1="243.48" y1="428.16" x2="243.48" y2="459.48" stroke="#000000" stroke-width="1.2"/>
<ellipse cx="243.48" cy="443.82" rx="2.2" ry="2.1" fill="#000000"/>
<line x1="253.46" y1="417.09" x2="253.46" y2="439.23" stroke="#008B00" stroke-width="1.2"/>
<ellipse cx="253.46" cy="428.16" rx="2.2" ry="2.1" fill="#008B00"/>
<line x1="278.41" y1="427.35" x2="278.41" y2="455.97" stroke="#000000" stroke-width="1.2"/>
<ellipse cx="278.41" cy="441.66" rx="2.2" ry="2.1" fill="#000000"/>
<line x1="303.36" y1="380.91" x2="303.36" y2="413.31" stroke="#008B00" stroke-width="1.2"/>
<ellipse cx="303.36" cy="397.11" rx="2.2" ry="2.1" fill="#008B00"/>
<line x1="328.31" y1="424.65" x2="328.31" y2="452.19" stroke="#000000" stroke-width="1.2"/>
<ellipse cx="328.31" cy="438.42" rx="2.2" ry="2.1" fill="#000000"/>
<path d="M203.56,432.01 L205.14,431.97 L206.72,431.93 L208.30,431.88 L209.88,431.82 L211.46,431.76 L213.03,431.70 L214.61,431.62 L216.19,431.54 L217.77,431.46 L219.35,431.36 L220.93,431.26 L222.51,431.15 L224.09,431.03 L225.67,430.90 L227.25,430.76 L228.83,430.61 L230.40,430.45 L231.98,430.28 L233.56,430.10 L235.14,429.90 L236.72,429.69 L238.30,429.46 L239.88,429.22 L241.46,428.97 L243.04,428.69 L244.62,428.40 L246.20,428.10 L247.78,427.77 L249.35,427.42 L250.93,427.06 L252.51,426.67 L254.09,426.27 L255.67,425.84 L257.25,425.39 L258.83,424.92 L260.41,424.43 L261.99,423.92 L263.57,423.39 L265.15,422.83 L266.72,422.26 L268.30,421.67 L269.88,421.05 L271.46,420.42 L273.04,419.77 L274.62,419.10 L276.20,418.42 L277.78,417.72 L279.36,417.00 L280.94,416.26 L282.52,415.52 L284.09,414.76 L285.67,413.98 L287.25,413.20 L288.83,412.40 L290.41,411.59 L291.99,410.77 L293.57,409.94 L295.15,409.10 L296.73,408.25 L298.31,407.40 L299.89,406.53 L301.47,405.66 L303.04,404.78 L304.62,403.90 L306.20,403.01 L307.78,402.11 L309.36,401.21 L310.94,400.30 L312.52,399.39 L314.10,398.47 L315.68,397.55 L317.26,396.63 L318.84,395.70 L320.41,394.76 L321.99,393.83 L323.57,392.89 L325.15,391.94 L326.73,391.00 L328.31,390.05 L328.31,445.96 L326.73,445.97 L325.15,445.98 L323.57,445.99 L321.99,446.01 L320.41,446.03 L318.84,446.05 L317.26,446.08 L315.68,446.11 L314.10,446.14 L312.52,446.18 L310.94,446.23 L309.36,446.28 L307.78,446.33 L306.20,446.39 L304.62,446.46 L303.04,446.53 L301.47,446.61 L299.89,446.69 L298.31,446.79 L296.73,446.89 L295.15,447.00 L293.57,447.12 L291.99,447.24 L290.41,447.38 L288.83,447.53 L287.25,447.69 L285.67,447.86 L284.09,448.04 L282.52,448.24 L280.94,448.45 L279.36,448.67 L277.78,448.91 L276.20,449.16 L274.62,449.44 L273.04,449.72 L271.46,450.03 L269.88,450.35 L268.30,450.70 L266.72,451.06 L265.15,451.45 L263.57,451.85 L261.99,452.27 L260.41,452.72 L258.83,453.19 L257.25,453.67 L255.67,454.18 L254.09,454.71 L252.51,455.26 L250.93,455.83 L249.35,456.43 L247.78,457.04 L246.20,457.67 L244.62,458.32 L243.04,458.98 L241.46,459.67 L239.88,460.37 L238.30,461.08 L236.72,461.81 L235.14,462.56 L233.56,463.32 L231.98,464.09 L230.40,464.88 L228.83,465.67 L227.25,466.48 L225.67,467.30 L224.09,468.13 L222.51,468.97 L220.93,469.81 L219.35,470.67 L217.77,471.53 L216.19,472.40 L214.61,473.28 L213.03,474.16 L211.46,475.05 L209.88,475.95 L208.30,476.85 L206.72,477.76 L205.14,478.67 L203.56,479.59 Z" fill="#999999" fill-opacity="0.4"/>
<path d="M203.56,455.80 L205.14,455.32 L206.72,454.84 L208.30,454.36 L209.88,453.89 L211.46,453.41 L213.03,452.93 L214.61,452.45 L216.19,451.97 L217.77,451.49 L219.35,451.01 L220.93,450.54 L222.51,450.06 L224.09,449.58 L225.67,449.10 L227.25,448.62 L228.83,448.14 L230.40,447.67 L231.98,447.19 L233.56,446.71 L235.14,446.23 L236.72,445.75 L238.30,445.27 L239.88,444.80 L241.46,444.32 L243.04,443.84 L244.62,443.36 L246.20,442.88 L247.78,442.40 L249.35,441.92 L250.93,441.45 L252.51,440.97 L254.09,440.49 L255.67,440.01 L257.25,439.53 L258.83,439.05 L260.41,438.58 L261.99,438.10 L263.57,437.62 L265.15,437.14 L266.72,436.66 L268.30,436.18 L269.88,435.70 L271.46,435.23 L273.04,434.75 L274.62,434.27 L276.20,433.79 L277.78,433.31 L279.36,432.83 L280.94,432.36 L282.52,431.88 L284.09,431.40 L285.67,430.92 L287.25,430.44 L288.83,429.96 L290.41,429.48 L291.99,429.01 L293.57,428.53 L295.15,428.05 L296.73,427.57 L298.31,427.09 L299.89,426.61 L301.47,426.14 L303.04,425.66 L304.62,425.18 L306.20,424.70 L307.78,424.22 L309.36,423.74 L310.94,423.27 L312.52,422.79 L314.10,422.31 L315.68,421.83 L317.26,421.35 L318.84,420.87 L320.41,420.39 L321.99,419.92 L323.57,419.44 L325.15,418.96 L326.73,418.48 L328.31,418.00" fill="none" stroke="#0000FF" stroke-width="2.0"/>
</g>
<line x1="196.75" y1="377.00" x2="196.75" y2="484.95" stroke="#111111" stroke-width="1.25"/>
<line x1="196.20" y1="484.40" x2="334.70" y2="484.40" stroke="#111111" stroke-width="1.25"/>
<line x1="193.75" y1="401.70" x2="196.75" y2="401.70" stroke="#111111" stroke-width="0.95"/>
<text transform="translate(191.75,404.90) scale(1.0,1)" font-size="8.6" text-anchor="end" fill="#4D4D4D">2</text>
<line x1="193.75" y1="428.70" x2="196.75" y2="428.70" stroke="#111111" stroke-width="0.95"/>
<text transform="translate(191.75,431.90) scale(1.0,1)" font-size="8.6" text-anchor="end" fill="#4D4D4D">1</text>
<line x1="193.75" y1="455.70" x2="196.75" y2="455.70" stroke="#111111" stroke-width="0.95"/>
<text transform="translate(191.75,458.90) scale(1.0,1)" font-size="8.6" text-anchor="end" fill="#4D4D4D">0</text>
<line x1="193.75" y1="482.70" x2="196.75" y2="482.70" stroke="#111111" stroke-width="0.95"/>
<text transform="translate(191.75,485.90) scale(1.0,1)" font-size="8.6" text-anchor="end" fill="#4D4D4D">-1</text>
<line x1="203.56" y1="484.40" x2="203.56" y2="487.10" stroke="#111111" stroke-width="0.95"/>
<text transform="translate(203.56,495.40) scale(1.0,1)" font-size="8.6" text-anchor="middle" fill="#4D4D4D">0</text>
<line x1="228.51" y1="484.40" x2="228.51" y2="487.10" stroke="#111111" stroke-width="0.95"/>
<text transform="translate(228.51,495.40) scale(1.0,1)" font-size="8.6" text-anchor="middle" fill="#4D4D4D">5</text>
<line x1="253.46" y1="484.40" x2="253.46" y2="487.10" stroke="#111111" stroke-width="0.95"/>
<text transform="translate(253.46,495.40) scale(1.0,1)" font-size="8.6" text-anchor="middle" fill="#4D4D4D">10</text>
<line x1="278.41" y1="484.40" x2="278.41" y2="487.10" stroke="#111111" stroke-width="0.95"/>
<text transform="translate(278.41,495.40) scale(1.0,1)" font-size="8.6" text-anchor="middle" fill="#4D4D4D">15</text>
<line x1="303.36" y1="484.40" x2="303.36" y2="487.10" stroke="#111111" stroke-width="0.95"/>
<text transform="translate(303.36,495.40) scale(1.0,1)" font-size="8.6" text-anchor="middle" fill="#4D4D4D">20</text>
<line x1="328.31" y1="484.40" x2="328.31" y2="487.10" stroke="#111111" stroke-width="0.95"/>
<text transform="translate(328.31,495.40) scale(1.0,1)" font-size="8.6" text-anchor="middle" fill="#4D4D4D">25</text>
<text transform="translate(265.73,507.00) scale(1.057,1)" font-size="10.0" text-anchor="middle" fill="#000">Storage Time (days)</text>
<text transform="translate(179.60,430.70) scale(1.0,1) rotate(-90)" font-size="10.5" text-anchor="middle" fill="#000">g</text>
<text transform="translate(377.10,356.40) scale(1.0,1)" font-size="12.63" text-anchor="start" fill="#000" font-weight="bold">K. OAT</text>
<text transform="translate(377.10,369.60) scale(1.0,1)" font-size="7.63" text-anchor="start" fill="#1a1a1a">R² = 0.307 , p = 0.963 , Model = Q</text>
<clipPath id="clipK"><rect x="377.10" y="377.00" width="130.60" height="107.40"/></clipPath>
<g clip-path="url(#clipK)">
<line x1="383.30" y1="443.08" x2="383.30" y2="449.18" stroke="#000000" stroke-width="1.2"/>
<ellipse cx="383.30" cy="446.13" rx="2.2" ry="2.1" fill="#000000"/>
<line x1="396.00" y1="431.00" x2="396.00" y2="443.69" stroke="#000000" stroke-width="1.2"/>
<ellipse cx="396.00" cy="437.35" rx="2.2" ry="2.1" fill="#000000"/>
<line x1="408.69" y1="403.80" x2="408.69" y2="423.56" stroke="#008B00" stroke-width="1.2"/>
<ellipse cx="408.69" cy="413.68" rx="2.2" ry="2.1" fill="#008B00"/>
<line x1="412.92" y1="438.45" x2="412.92" y2="446.01" stroke="#000000" stroke-width="1.2"/>
<ellipse cx="412.92" cy="442.23" rx="2.2" ry="2.1" fill="#000000"/>
<line x1="421.39" y1="413.07" x2="421.39" y2="429.66" stroke="#008B00" stroke-width="1.2"/>
<ellipse cx="421.39" cy="421.37" rx="2.2" ry="2.1" fill="#008B00"/>
<line x1="434.08" y1="409.78" x2="434.08" y2="425.39" stroke="#008B00" stroke-width="1.2"/>
<ellipse cx="434.08" cy="417.58" rx="2.2" ry="2.1" fill="#008B00"/>
<line x1="442.55" y1="436.01" x2="442.55" y2="443.81" stroke="#000000" stroke-width="1.2"/>
<ellipse cx="442.55" cy="439.91" rx="2.2" ry="2.1" fill="#000000"/>
<line x1="446.78" y1="381.23" x2="446.78" y2="408.07" stroke="#008B00" stroke-width="1.2"/>
<ellipse cx="446.78" cy="394.65" rx="2.2" ry="2.1" fill="#008B00"/>
<line x1="472.17" y1="436.62" x2="472.17" y2="444.67" stroke="#000000" stroke-width="1.2"/>
<ellipse cx="472.17" cy="440.64" rx="2.2" ry="2.1" fill="#000000"/>
<line x1="501.80" y1="436.98" x2="501.80" y2="444.30" stroke="#000000" stroke-width="1.2"/>
<ellipse cx="501.80" cy="440.64" rx="2.2" ry="2.1" fill="#000000"/>
<path d="M383.30,416.35 L384.80,416.35 L386.30,416.32 L387.80,416.27 L389.30,416.19 L390.80,416.08 L392.30,415.93 L393.80,415.76 L395.30,415.55 L396.80,415.30 L398.30,415.02 L399.80,414.71 L401.30,414.36 L402.80,413.97 L404.30,413.56 L405.80,413.12 L407.30,412.65 L408.80,412.15 L410.30,411.64 L411.80,411.12 L413.30,410.58 L414.80,410.04 L416.30,409.49 L417.80,408.96 L419.30,408.43 L420.80,407.91 L422.30,407.41 L423.80,406.93 L425.30,406.48 L426.80,406.05 L428.30,405.65 L429.80,405.29 L431.30,404.96 L432.80,404.67 L434.30,404.41 L435.80,404.20 L437.30,404.02 L438.80,403.89 L440.30,403.79 L441.80,403.74 L443.30,403.73 L444.80,403.76 L446.30,403.82 L447.80,403.93 L449.30,404.08 L450.80,404.26 L452.30,404.47 L453.80,404.72 L455.30,405.00 L456.80,405.30 L458.30,405.63 L459.80,405.98 L461.30,406.35 L462.80,406.73 L464.30,407.12 L465.80,407.52 L467.30,407.92 L468.80,408.32 L470.30,408.72 L471.80,409.10 L473.30,409.47 L474.80,409.83 L476.30,410.16 L477.80,410.48 L479.30,410.76 L480.80,411.03 L482.30,411.26 L483.80,411.46 L485.30,411.64 L486.80,411.79 L488.30,411.90 L489.80,411.99 L491.30,412.05 L492.80,412.08 L494.30,412.08 L495.80,412.06 L497.30,412.02 L498.80,411.94 L500.30,411.85 L501.80,411.73 L501.80,479.57 L500.30,476.96 L498.80,474.45 L497.30,472.02 L495.80,469.68 L494.30,467.42 L492.80,465.26 L491.30,463.18 L489.80,461.20 L488.30,459.31 L486.80,457.51 L485.30,455.80 L483.80,454.19 L482.30,452.66 L480.80,451.23 L479.30,449.89 L477.80,448.64 L476.30,447.48 L474.80,446.41 L473.30,445.41 L471.80,444.50 L470.30,443.66 L468.80,442.90 L467.30,442.20 L465.80,441.57 L464.30,441.00 L462.80,440.49 L461.30,440.03 L459.80,439.61 L458.30,439.25 L456.80,438.92 L455.30,438.64 L453.80,438.39 L452.30,438.17 L450.80,437.98 L449.30,437.83 L447.80,437.70 L446.30,437.59 L444.80,437.51 L443.30,437.45 L441.80,437.42 L440.30,437.41 L438.80,437.42 L437.30,437.45 L435.80,437.51 L434.30,437.58 L432.80,437.69 L431.30,437.81 L429.80,437.97 L428.30,438.15 L426.80,438.36 L425.30,438.61 L423.80,438.89 L422.30,439.21 L420.80,439.57 L419.30,439.98 L417.80,440.44 L416.30,440.95 L414.80,441.52 L413.30,442.15 L411.80,442.86 L410.30,443.64 L408.80,444.49 L407.30,445.43 L405.80,446.45 L404.30,447.57 L402.80,448.77 L401.30,450.07 L399.80,451.47 L398.30,452.96 L396.80,454.55 L395.30,456.24 L393.80,458.03 L392.30,459.92 L390.80,461.90 L389.30,463.97 L387.80,466.14 L386.30,468.40 L384.80,470.76 L383.30,473.20 Z" fill="#999999" fill-opacity="0.4"/>
<path d="M383.30,444.77 L384.80,443.55 L386.30,442.36 L387.80,441.21 L389.30,440.08 L390.80,438.99 L392.30,437.92 L393.80,436.89 L395.30,435.89 L396.80,434.93 L398.30,433.99 L399.80,433.09 L401.30,432.21 L402.80,431.37 L404.30,430.56 L405.80,429.78 L407.30,429.04 L408.80,428.32 L410.30,427.64 L411.80,426.99 L413.30,426.37 L414.80,425.78 L416.30,425.22 L417.80,424.70 L419.30,424.20 L420.80,423.74 L422.30,423.31 L423.80,422.91 L425.30,422.54 L426.80,422.21 L428.30,421.90 L429.80,421.63 L431.30,421.39 L432.80,421.18 L434.30,421.00 L435.80,420.85 L437.30,420.74 L438.80,420.65 L440.30,420.60 L441.80,420.58 L443.30,420.59 L444.80,420.63 L446.30,420.71 L447.80,420.81 L449.30,420.95 L450.80,421.12 L452.30,421.32 L453.80,421.55 L455.30,421.82 L456.80,422.11 L458.30,422.44 L459.80,422.80 L461.30,423.19 L462.80,423.61 L464.30,424.06 L465.80,424.55 L467.30,425.06 L468.80,425.61 L470.30,426.19 L471.80,426.80 L473.30,427.44 L474.80,428.12 L476.30,428.82 L477.80,429.56 L479.30,430.33 L480.80,431.13 L482.30,431.96 L483.80,432.82 L485.30,433.72 L486.80,434.65 L488.30,435.60 L489.80,436.59 L491.30,437.62 L492.80,438.67 L494.30,439.75 L495.80,440.87 L497.30,442.02 L498.80,443.20 L500.30,444.41 L501.80,445.65" fill="none" stroke="#0000FF" stroke-width="2.0"/>
</g>
<line x1="377.10" y1="377.00" x2="377.10" y2="484.95" stroke="#111111" stroke-width="1.25"/>
<line x1="376.55" y1="484.40" x2="507.70" y2="484.40" stroke="#111111" stroke-width="1.25"/>
<line x1="374.10" y1="384.40" x2="377.10" y2="384.40" stroke="#111111" stroke-width="0.95"/>
<text transform="translate(372.10,387.60) scale(1.0,1)" font-size="8.6" text-anchor="end" fill="#4D4D4D">5.0</text>
<line x1="374.10" y1="414.90" x2="377.10" y2="414.90" stroke="#111111" stroke-width="0.95"/>
<text transform="translate(372.10,418.10) scale(1.0,1)" font-size="8.6" text-anchor="end" fill="#4D4D4D">2.5</text>
<line x1="374.10" y1="445.40" x2="377.10" y2="445.40" stroke="#111111" stroke-width="0.95"/>
<text transform="translate(372.10,448.60) scale(1.0,1)" font-size="8.6" text-anchor="end" fill="#4D4D4D">0.0</text>
<line x1="374.10" y1="475.90" x2="377.10" y2="475.90" stroke="#111111" stroke-width="0.95"/>
<text transform="translate(372.10,479.10) scale(1.0,1)" font-size="8.6" text-anchor="end" fill="#4D4D4D">-2.5</text>
<line x1="383.30" y1="484.40" x2="383.30" y2="487.10" stroke="#111111" stroke-width="0.95"/>
<text transform="translate(383.30,495.40) scale(1.0,1)" font-size="8.6" text-anchor="middle" fill="#4D4D4D">0</text>
<line x1="425.62" y1="484.40" x2="425.62" y2="487.10" stroke="#111111" stroke-width="0.95"/>
<text transform="translate(425.62,495.40) scale(1.0,1)" font-size="8.6" text-anchor="middle" fill="#4D4D4D">10</text>
<line x1="467.94" y1="484.40" x2="467.94" y2="487.10" stroke="#111111" stroke-width="0.95"/>
<text transform="translate(467.94,495.40) scale(1.0,1)" font-size="8.6" text-anchor="middle" fill="#4D4D4D">20</text>
<text transform="translate(442.40,507.00) scale(1.057,1)" font-size="10.0" text-anchor="middle" fill="#000">Storage Time (days)</text>
<text transform="translate(352.78,430.70) scale(1.0,1) rotate(-90)" font-size="10.5" text-anchor="middle" fill="#000">g</text>
<text transform="translate(543.60,356.40) scale(1.0,1)" font-size="12.63" text-anchor="start" fill="#000" font-weight="bold">L. P5CS</text>
<text transform="translate(543.60,369.60) scale(1.0,1)" font-size="7.63" text-anchor="start" fill="#1a1a1a">R² = 0.033 , p = 0.697 , Model = L</text>
<clipPath id="clipL"><rect x="543.60" y="377.00" width="137.10" height="107.40"/></clipPath>
<g clip-path="url(#clipL)">
<line x1="550.28" y1="431.03" x2="550.28" y2="451.48" stroke="#000000" stroke-width="1.2"/>
<ellipse cx="550.28" cy="441.25" rx="2.2" ry="2.1" fill="#000000"/>
<line x1="570.12" y1="436.75" x2="570.12" y2="448.61" stroke="#000000" stroke-width="1.2"/>
<ellipse cx="570.12" cy="442.68" rx="2.2" ry="2.1" fill="#000000"/>
<line x1="580.04" y1="404.03" x2="580.04" y2="430.21" stroke="#008B00" stroke-width="1.2"/>
<ellipse cx="580.04" cy="417.12" rx="2.2" ry="2.1" fill="#008B00"/>
<line x1="604.84" y1="440.43" x2="604.84" y2="452.70" stroke="#000000" stroke-width="1.2"/>
<ellipse cx="604.84" cy="446.57" rx="2.2" ry="2.1" fill="#000000"/>
<line x1="609.80" y1="381.13" x2="609.80" y2="417.53" stroke="#008B00" stroke-width="1.2"/>
<ellipse cx="609.80" cy="399.33" rx="2.2" ry="2.1" fill="#008B00"/>
<line x1="639.56" y1="439.00" x2="639.56" y2="451.27" stroke="#000000" stroke-width="1.2"/>
<ellipse cx="639.56" cy="445.14" rx="2.2" ry="2.1" fill="#000000"/>
<line x1="674.28" y1="441.25" x2="674.28" y2="453.52" stroke="#000000" stroke-width="1.2"/>
<ellipse cx="674.28" cy="447.39" rx="2.2" ry="2.1" fill="#000000"/>
<path d="M550.28,397.30 L551.85,398.03 L553.42,398.75 L554.99,399.47 L556.56,400.18 L558.13,400.88 L559.70,401.57 L561.27,402.25 L562.84,402.93 L564.41,403.59 L565.98,404.24 L567.55,404.88 L569.12,405.51 L570.69,406.13 L572.25,406.73 L573.82,407.32 L575.39,407.90 L576.96,408.46 L578.53,409.00 L580.10,409.52 L581.67,410.03 L583.24,410.51 L584.81,410.98 L586.38,411.42 L587.95,411.84 L589.52,412.24 L591.09,412.61 L592.66,412.96 L594.23,413.28 L595.80,413.58 L597.37,413.84 L598.94,414.08 L600.51,414.29 L602.08,414.47 L603.65,414.62 L605.22,414.74 L606.79,414.84 L608.36,414.90 L609.93,414.93 L611.50,414.93 L613.06,414.91 L614.63,414.86 L616.20,414.78 L617.77,414.67 L619.34,414.54 L620.91,414.39 L622.48,414.21 L624.05,414.01 L625.62,413.78 L627.19,413.54 L628.76,413.28 L630.33,412.99 L631.90,412.70 L633.47,412.38 L635.04,412.05 L636.61,411.70 L638.18,411.34 L639.75,410.97 L641.32,410.58 L642.89,410.18 L644.46,409.77 L646.03,409.35 L647.60,408.92 L649.17,408.48 L650.74,408.03 L652.31,407.57 L653.87,407.11 L655.44,406.64 L657.01,406.16 L658.58,405.67 L660.15,405.18 L661.72,404.68 L663.29,404.18 L664.86,403.67 L666.43,403.15 L668.00,402.63 L669.57,402.11 L671.14,401.58 L672.71,401.05 L674.28,400.51 L674.28,478.73 L672.71,477.95 L671.14,477.17 L669.57,476.40 L668.00,475.64 L666.43,474.87 L664.86,474.12 L663.29,473.36 L661.72,472.62 L660.15,471.87 L658.58,471.14 L657.01,470.41 L655.44,469.69 L653.87,468.97 L652.31,468.26 L650.74,467.56 L649.17,466.87 L647.60,466.19 L646.03,465.51 L644.46,464.85 L642.89,464.19 L641.32,463.55 L639.75,462.92 L638.18,462.31 L636.61,461.70 L635.04,461.11 L633.47,460.54 L631.90,459.98 L630.33,459.43 L628.76,458.91 L627.19,458.40 L625.62,457.92 L624.05,457.45 L622.48,457.00 L620.91,456.58 L619.34,456.18 L617.77,455.81 L616.20,455.46 L614.63,455.14 L613.06,454.84 L611.50,454.57 L609.93,454.33 L608.36,454.12 L606.79,453.94 L605.22,453.79 L603.65,453.67 L602.08,453.58 L600.51,453.51 L598.94,453.48 L597.37,453.47 L595.80,453.50 L594.23,453.55 L592.66,453.63 L591.09,453.73 L589.52,453.86 L587.95,454.02 L586.38,454.19 L584.81,454.39 L583.24,454.62 L581.67,454.86 L580.10,455.12 L578.53,455.40 L576.96,455.70 L575.39,456.01 L573.82,456.35 L572.25,456.69 L570.69,457.05 L569.12,457.43 L567.55,457.81 L565.98,458.21 L564.41,458.62 L562.84,459.04 L561.27,459.47 L559.70,459.91 L558.13,460.36 L556.56,460.81 L554.99,461.28 L553.42,461.75 L551.85,462.23 L550.28,462.72 Z" fill="#999999" fill-opacity="0.4"/>
<path d="M550.28,430.01 L551.85,430.13 L553.42,430.25 L554.99,430.37 L556.56,430.50 L558.13,430.62 L559.70,430.74 L561.27,430.86 L562.84,430.98 L564.41,431.10 L565.98,431.23 L567.55,431.35 L569.12,431.47 L570.69,431.59 L572.25,431.71 L573.82,431.83 L575.39,431.96 L576.96,432.08 L578.53,432.20 L580.10,432.32 L581.67,432.44 L583.24,432.56 L584.81,432.69 L586.38,432.81 L587.95,432.93 L589.52,433.05 L591.09,433.17 L592.66,433.29 L594.23,433.42 L595.80,433.54 L597.37,433.66 L598.94,433.78 L600.51,433.90 L602.08,434.02 L603.65,434.15 L605.22,434.27 L606.79,434.39 L608.36,434.51 L609.93,434.63 L611.50,434.75 L613.06,434.88 L614.63,435.00 L616.20,435.12 L617.77,435.24 L619.34,435.36 L620.91,435.48 L622.48,435.61 L624.05,435.73 L625.62,435.85 L627.19,435.97 L628.76,436.09 L630.33,436.21 L631.90,436.34 L633.47,436.46 L635.04,436.58 L636.61,436.70 L638.18,436.82 L639.75,436.94 L641.32,437.07 L642.89,437.19 L644.46,437.31 L646.03,437.43 L647.60,437.55 L649.17,437.67 L650.74,437.80 L652.31,437.92 L653.87,438.04 L655.44,438.16 L657.01,438.28 L658.58,438.40 L660.15,438.53 L661.72,438.65 L663.29,438.77 L664.86,438.89 L666.43,439.01 L668.00,439.13 L669.57,439.26 L671.14,439.38 L672.71,439.50 L674.28,439.62" fill="none" stroke="#FF0000" stroke-width="2.0"/>
</g>
<line x1="543.60" y1="377.00" x2="543.60" y2="484.95" stroke="#111111" stroke-width="1.25"/>
<line x1="543.05" y1="484.40" x2="680.70" y2="484.40" stroke="#111111" stroke-width="1.25"/>
<line x1="540.60" y1="391.15" x2="543.60" y2="391.15" stroke="#111111" stroke-width="0.95"/>
<text transform="translate(538.60,394.35) scale(1.0,1)" font-size="8.6" text-anchor="end" fill="#4D4D4D">3</text>
<line x1="540.60" y1="411.60" x2="543.60" y2="411.60" stroke="#111111" stroke-width="0.95"/>
<text transform="translate(538.60,414.80) scale(1.0,1)" font-size="8.6" text-anchor="end" fill="#4D4D4D">2</text>
<line x1="540.60" y1="432.05" x2="543.60" y2="432.05" stroke="#111111" stroke-width="0.95"/>
<text transform="translate(538.60,435.25) scale(1.0,1)" font-size="8.6" text-anchor="end" fill="#4D4D4D">1</text>
<line x1="540.60" y1="452.50" x2="543.60" y2="452.50" stroke="#111111" stroke-width="0.95"/>
<text transform="translate(538.60,455.70) scale(1.0,1)" font-size="8.6" text-anchor="end" fill="#4D4D4D">0</text>
<line x1="540.60" y1="472.95" x2="543.60" y2="472.95" stroke="#111111" stroke-width="0.95"/>
<text transform="translate(538.60,476.15) scale(1.0,1)" font-size="8.6" text-anchor="end" fill="#4D4D4D">-1</text>
<line x1="585.00" y1="484.40" x2="585.00" y2="487.10" stroke="#111111" stroke-width="0.95"/>
<text transform="translate(585.00,495.40) scale(1.0,1)" font-size="8.6" text-anchor="middle" fill="#4D4D4D">10</text>
<line x1="634.60" y1="484.40" x2="634.60" y2="487.10" stroke="#111111" stroke-width="0.95"/>
<text transform="translate(634.60,495.40) scale(1.0,1)" font-size="8.6" text-anchor="middle" fill="#4D4D4D">20</text>
<text transform="translate(612.15,507.00) scale(1.057,1)" font-size="10.0" text-anchor="middle" fill="#000">Storage Time (days)</text>
<text transform="translate(526.45,430.70) scale(1.0,1) rotate(-90)" font-size="10.5" text-anchor="middle" fill="#000">g</text>
<text transform="translate(23.40,529.60) scale(1.0,1)" font-size="12.63" text-anchor="start" fill="#000" font-weight="bold">M. PAL</text>
<text transform="translate(23.40,542.80) scale(1.0,1)" font-size="7.63" text-anchor="start" fill="#1a1a1a">R² = 0.488 , p = &lt;0.01 , Model = L</text>
<clipPath id="clipM"><rect x="23.40" y="550.20" width="137.30" height="107.40"/></clipPath>
<g clip-path="url(#clipM)">
<ellipse cx="29.93" cy="602.35" rx="2.2" ry="2.1" fill="#000000"/>
<line x1="32.71" y1="569.84" x2="32.71" y2="586.22" stroke="#008B00" stroke-width="1.2"/>
<ellipse cx="32.71" cy="578.03" rx="2.2" ry="2.1" fill="#008B00"/>
<line x1="34.10" y1="590.00" x2="34.10" y2="603.86" stroke="#000000" stroke-width="1.2"/>
<ellipse cx="34.10" cy="596.93" rx="2.2" ry="2.1" fill="#000000"/>
<line x1="35.49" y1="577.40" x2="35.49" y2="587.48" stroke="#008B00" stroke-width="1.2"/>
<ellipse cx="35.49" cy="582.44" rx="2.2" ry="2.1" fill="#008B00"/>
<line x1="36.88" y1="572.99" x2="36.88" y2="583.07" stroke="#008B00" stroke-width="1.2"/>
<ellipse cx="36.88" cy="578.03" rx="2.2" ry="2.1" fill="#008B00"/>
<line x1="38.26" y1="586.60" x2="38.26" y2="596.68" stroke="#008B00" stroke-width="1.2"/>
<ellipse cx="38.26" cy="591.64" rx="2.2" ry="2.1" fill="#008B00"/>
<line x1="39.65" y1="582.82" x2="39.65" y2="591.64" stroke="#008B00" stroke-width="1.2"/>
<ellipse cx="39.65" cy="587.23" rx="2.2" ry="2.1" fill="#008B00"/>
<line x1="41.04" y1="573.12" x2="41.04" y2="581.94" stroke="#008B00" stroke-width="1.2"/>
<ellipse cx="41.04" cy="577.53" rx="2.2" ry="2.1" fill="#008B00"/>
<line x1="42.43" y1="563.92" x2="42.43" y2="580.80" stroke="#008B00" stroke-width="1.2"/>
<ellipse cx="42.43" cy="572.36" rx="2.2" ry="2.1" fill="#008B00"/>
<line x1="43.82" y1="577.78" x2="43.82" y2="587.86" stroke="#008B00" stroke-width="1.2"/>
<ellipse cx="43.82" cy="582.82" rx="2.2" ry="2.1" fill="#008B00"/>
<line x1="46.60" y1="602.60" x2="46.60" y2="613.44" stroke="#000000" stroke-width="1.2"/>
<ellipse cx="46.60" cy="608.02" rx="2.2" ry="2.1" fill="#000000"/>
<line x1="49.38" y1="590.63" x2="49.38" y2="598.19" stroke="#008B00" stroke-width="1.2"/>
<ellipse cx="49.38" cy="594.41" rx="2.2" ry="2.1" fill="#008B00"/>
<line x1="50.77" y1="568.33" x2="50.77" y2="584.96" stroke="#008B00" stroke-width="1.2"/>
<ellipse cx="50.77" cy="576.64" rx="2.2" ry="2.1" fill="#008B00"/>
<line x1="54.93" y1="577.27" x2="54.93" y2="589.62" stroke="#008B00" stroke-width="1.2"/>
<ellipse cx="54.93" cy="583.45" rx="2.2" ry="2.1" fill="#008B00"/>
<line x1="59.10" y1="584.08" x2="59.10" y2="594.16" stroke="#008B00" stroke-width="1.2"/>
<ellipse cx="59.10" cy="589.12" rx="2.2" ry="2.1" fill="#008B00"/>
<line x1="63.27" y1="554.59" x2="63.27" y2="573.24" stroke="#008B00" stroke-width="1.2"/>
<ellipse cx="63.27" cy="563.92" rx="2.2" ry="2.1" fill="#008B00"/>
<line x1="68.82" y1="580.05" x2="68.82" y2="591.39" stroke="#008B00" stroke-width="1.2"/>
<ellipse cx="68.82" cy="585.72" rx="2.2" ry="2.1" fill="#008B00"/>
<line x1="113.27" y1="611.29" x2="113.27" y2="628.68" stroke="#008B00" stroke-width="1.2"/>
<ellipse cx="113.27" cy="619.99" rx="2.2" ry="2.1" fill="#008B00"/>
<line x1="154.94" y1="630.70" x2="154.94" y2="647.08" stroke="#008B00" stroke-width="1.2"/>
<ellipse cx="154.94" cy="638.89" rx="2.2" ry="2.1" fill="#008B00"/>
<path d="M29.93,572.14 L31.51,572.94 L33.09,573.73 L34.68,574.52 L36.26,575.29 L37.84,576.05 L39.42,576.81 L41.01,577.54 L42.59,578.27 L44.17,578.98 L45.75,579.68 L47.34,580.37 L48.92,581.04 L50.50,581.69 L52.08,582.33 L53.67,582.96 L55.25,583.57 L56.83,584.17 L58.41,584.75 L60.00,585.31 L61.58,585.86 L63.16,586.40 L64.74,586.93 L66.33,587.44 L67.91,587.94 L69.49,588.43 L71.07,588.91 L72.65,589.38 L74.24,589.83 L75.82,590.28 L77.40,590.72 L78.98,591.15 L80.57,591.58 L82.15,592.00 L83.73,592.41 L85.31,592.81 L86.90,593.21 L88.48,593.60 L90.06,593.99 L91.64,594.38 L93.23,594.76 L94.81,595.13 L96.39,595.51 L97.97,595.87 L99.56,596.24 L101.14,596.60 L102.72,596.96 L104.30,597.32 L105.89,597.67 L107.47,598.02 L109.05,598.37 L110.63,598.72 L112.22,599.06 L113.80,599.41 L115.38,599.75 L116.96,600.09 L118.54,600.43 L120.13,600.76 L121.71,601.10 L123.29,601.43 L124.87,601.77 L126.46,602.10 L128.04,602.43 L129.62,602.76 L131.20,603.09 L132.79,603.41 L134.37,603.74 L135.95,604.07 L137.53,604.39 L139.12,604.72 L140.70,605.04 L142.28,605.36 L143.86,605.69 L145.45,606.01 L147.03,606.33 L148.61,606.65 L150.19,606.97 L151.78,607.29 L153.36,607.60 L154.94,607.92 L154.94,652.28 L153.36,651.35 L151.78,650.41 L150.19,649.48 L148.61,648.55 L147.03,647.61 L145.45,646.68 L143.86,645.75 L142.28,644.82 L140.70,643.88 L139.12,642.95 L137.53,642.03 L135.95,641.10 L134.37,640.17 L132.79,639.24 L131.20,638.32 L129.62,637.39 L128.04,636.47 L126.46,635.54 L124.87,634.62 L123.29,633.70 L121.71,632.78 L120.13,631.86 L118.54,630.95 L116.96,630.03 L115.38,629.12 L113.80,628.21 L112.22,627.30 L110.63,626.39 L109.05,625.48 L107.47,624.58 L105.89,623.68 L104.30,622.78 L102.72,621.88 L101.14,620.98 L99.56,620.09 L97.97,619.20 L96.39,618.32 L94.81,617.44 L93.23,616.56 L91.64,615.69 L90.06,614.82 L88.48,613.95 L86.90,613.09 L85.31,612.24 L83.73,611.39 L82.15,610.55 L80.57,609.71 L78.98,608.88 L77.40,608.06 L75.82,607.25 L74.24,606.44 L72.65,605.65 L71.07,604.86 L69.49,604.08 L67.91,603.32 L66.33,602.57 L64.74,601.83 L63.16,601.10 L61.58,600.38 L60.00,599.68 L58.41,598.99 L56.83,598.32 L55.25,597.66 L53.67,597.02 L52.08,596.39 L50.50,595.78 L48.92,595.18 L47.34,594.60 L45.75,594.03 L44.17,593.47 L42.59,592.93 L41.01,592.41 L39.42,591.89 L37.84,591.39 L36.26,590.90 L34.68,590.42 L33.09,589.95 L31.51,589.49 L29.93,589.04 Z" fill="#999999" fill-opacity="0.4"/>
<path d="M29.93,580.59 L31.51,581.21 L33.09,581.84 L34.68,582.47 L36.26,583.09 L37.84,583.72 L39.42,584.35 L41.01,584.97 L42.59,585.60 L44.17,586.23 L45.75,586.86 L47.34,587.48 L48.92,588.11 L50.50,588.74 L52.08,589.36 L53.67,589.99 L55.25,590.62 L56.83,591.24 L58.41,591.87 L60.00,592.50 L61.58,593.12 L63.16,593.75 L64.74,594.38 L66.33,595.00 L67.91,595.63 L69.49,596.26 L71.07,596.88 L72.65,597.51 L74.24,598.14 L75.82,598.76 L77.40,599.39 L78.98,600.02 L80.57,600.64 L82.15,601.27 L83.73,601.90 L85.31,602.52 L86.90,603.15 L88.48,603.78 L90.06,604.41 L91.64,605.03 L93.23,605.66 L94.81,606.29 L96.39,606.91 L97.97,607.54 L99.56,608.17 L101.14,608.79 L102.72,609.42 L104.30,610.05 L105.89,610.67 L107.47,611.30 L109.05,611.93 L110.63,612.55 L112.22,613.18 L113.80,613.81 L115.38,614.43 L116.96,615.06 L118.54,615.69 L120.13,616.31 L121.71,616.94 L123.29,617.57 L124.87,618.19 L126.46,618.82 L128.04,619.45 L129.62,620.07 L131.20,620.70 L132.79,621.33 L134.37,621.96 L135.95,622.58 L137.53,623.21 L139.12,623.84 L140.70,624.46 L142.28,625.09 L143.86,625.72 L145.45,626.34 L147.03,626.97 L148.61,627.60 L150.19,628.22 L151.78,628.85 L153.36,629.48 L154.94,630.10" fill="none" stroke="#FF0000" stroke-width="2.0"/>
</g>
<line x1="23.40" y1="550.20" x2="23.40" y2="658.15" stroke="#111111" stroke-width="1.25"/>
<line x1="22.85" y1="657.60" x2="160.70" y2="657.60" stroke="#111111" stroke-width="1.25"/>
<line x1="20.40" y1="552.20" x2="23.40" y2="552.20" stroke="#111111" stroke-width="0.95"/>
<text transform="translate(18.40,555.40) scale(1.0,1)" font-size="8.6" text-anchor="end" fill="#4D4D4D">4</text>
<line x1="20.40" y1="577.40" x2="23.40" y2="577.40" stroke="#111111" stroke-width="0.95"/>
<text transform="translate(18.40,580.60) scale(1.0,1)" font-size="8.6" text-anchor="end" fill="#4D4D4D">2</text>
<line x1="20.40" y1="602.60" x2="23.40" y2="602.60" stroke="#111111" stroke-width="0.95"/>
<text transform="translate(18.40,605.80) scale(1.0,1)" font-size="8.6" text-anchor="end" fill="#4D4D4D">0</text>
<line x1="20.40" y1="627.80" x2="23.40" y2="627.80" stroke="#111111" stroke-width="0.95"/>
<text transform="translate(18.40,631.00) scale(1.0,1)" font-size="8.6" text-anchor="end" fill="#4D4D4D">-2</text>
<line x1="20.40" y1="653.00" x2="23.40" y2="653.00" stroke="#111111" stroke-width="0.95"/>
<text transform="translate(18.40,656.20) scale(1.0,1)" font-size="8.6" text-anchor="end" fill="#4D4D4D">-4</text>
<line x1="29.93" y1="657.60" x2="29.93" y2="660.30" stroke="#111111" stroke-width="0.95"/>
<text transform="translate(29.93,668.60) scale(1.0,1)" font-size="8.6" text-anchor="middle" fill="#4D4D4D">0</text>
<line x1="64.66" y1="657.60" x2="64.66" y2="660.30" stroke="#111111" stroke-width="0.95"/>
<text transform="translate(64.66,668.60) scale(1.0,1)" font-size="8.6" text-anchor="middle" fill="#4D4D4D">25</text>
<line x1="99.38" y1="657.60" x2="99.38" y2="660.30" stroke="#111111" stroke-width="0.95"/>
<text transform="translate(99.38,668.60) scale(1.0,1)" font-size="8.6" text-anchor="middle" fill="#4D4D4D">50</text>
<line x1="134.10" y1="657.60" x2="134.10" y2="660.30" stroke="#111111" stroke-width="0.95"/>
<text transform="translate(134.10,668.60) scale(1.0,1)" font-size="8.6" text-anchor="middle" fill="#4D4D4D">75</text>
<text transform="translate(92.05,680.20) scale(1.057,1)" font-size="10.0" text-anchor="middle" fill="#000">Storage Time (days)</text>
<text transform="translate(6.25,603.90) scale(1.0,1) rotate(-90)" font-size="10.5" text-anchor="middle" fill="#000">g</text>
<text transform="translate(196.75,529.60) scale(1.0,1)" font-size="12.63" text-anchor="start" fill="#000" font-weight="bold">N. PDH</text>
<text transform="translate(196.75,542.80) scale(1.0,1)" font-size="7.63" text-anchor="start" fill="#1a1a1a">R² = 0.553 , p = 0.598 , Model = Q</text>
<clipPath id="clipN"><rect x="196.75" y="550.20" width="137.95" height="107.40"/></clipPath>
<g clip-path="url(#clipN)">
<line x1="203.30" y1="570.49" x2="203.30" y2="586.26" stroke="#000000" stroke-width="1.2"/>
<ellipse cx="203.30" cy="578.38" rx="2.2" ry="2.1" fill="#000000"/>
<line x1="216.65" y1="581.59" x2="216.65" y2="611.96" stroke="#000000" stroke-width="1.2"/>
<ellipse cx="216.65" cy="596.77" rx="2.2" ry="2.1" fill="#000000"/>
<line x1="234.45" y1="590.35" x2="234.45" y2="607.28" stroke="#008B00" stroke-width="1.2"/>
<ellipse cx="234.45" cy="598.82" rx="2.2" ry="2.1" fill="#008B00"/>
<line x1="243.35" y1="609.04" x2="243.35" y2="643.49" stroke="#008B00" stroke-width="1.2"/>
<ellipse cx="243.35" cy="626.26" rx="2.2" ry="2.1" fill="#008B00"/>
<line x1="256.70" y1="614.29" x2="256.70" y2="652.84" stroke="#008B00" stroke-width="1.2"/>
<ellipse cx="256.70" cy="633.56" rx="2.2" ry="2.1" fill="#008B00"/>
<line x1="265.60" y1="590.93" x2="265.60" y2="608.45" stroke="#008B00" stroke-width="1.2"/>
<ellipse cx="265.60" cy="599.69" rx="2.2" ry="2.1" fill="#008B00"/>
<line x1="270.05" y1="607.28" x2="270.05" y2="642.32" stroke="#008B00" stroke-width="1.2"/>
<ellipse cx="270.05" cy="624.80" rx="2.2" ry="2.1" fill="#008B00"/>
<line x1="296.75" y1="588.60" x2="296.75" y2="606.70" stroke="#008B00" stroke-width="1.2"/>
<ellipse cx="296.75" cy="597.65" rx="2.2" ry="2.1" fill="#008B00"/>
<line x1="327.90" y1="586.26" x2="327.90" y2="603.78" stroke="#008B00" stroke-width="1.2"/>
<ellipse cx="327.90" cy="595.02" rx="2.2" ry="2.1" fill="#008B00"/>
<path d="M203.30,555.33 L204.88,558.11 L206.45,560.80 L208.03,563.40 L209.61,565.90 L211.19,568.31 L212.76,570.62 L214.34,572.84 L215.92,574.96 L217.49,576.99 L219.07,578.91 L220.65,580.74 L222.23,582.47 L223.80,584.11 L225.38,585.65 L226.96,587.09 L228.54,588.45 L230.11,589.71 L231.69,590.89 L233.27,591.99 L234.84,593.00 L236.42,593.94 L238.00,594.81 L239.58,595.61 L241.15,596.35 L242.73,597.02 L244.31,597.64 L245.88,598.21 L247.46,598.72 L249.04,599.18 L250.62,599.60 L252.19,599.98 L253.77,600.32 L255.35,600.61 L256.93,600.87 L258.50,601.09 L260.08,601.28 L261.66,601.43 L263.23,601.54 L264.81,601.62 L266.39,601.66 L267.97,601.67 L269.54,601.64 L271.12,601.58 L272.70,601.47 L274.27,601.33 L275.85,601.15 L277.43,600.92 L279.01,600.65 L280.58,600.34 L282.16,599.97 L283.74,599.56 L285.32,599.08 L286.89,598.56 L288.47,597.97 L290.05,597.31 L291.62,596.59 L293.20,595.80 L294.78,594.94 L296.36,594.00 L297.93,592.98 L299.51,591.88 L301.09,590.69 L302.66,589.41 L304.24,588.05 L305.82,586.60 L307.40,585.06 L308.97,583.42 L310.55,581.69 L312.13,579.87 L313.71,577.96 L315.28,575.95 L316.86,573.85 L318.44,571.66 L320.01,569.37 L321.59,567.00 L323.17,564.53 L324.75,561.98 L326.32,559.34 L327.90,556.61 L327.90,619.69 L326.32,619.99 L324.75,620.30 L323.17,620.61 L321.59,620.94 L320.01,621.27 L318.44,621.62 L316.86,621.97 L315.28,622.33 L313.71,622.71 L312.13,623.09 L310.55,623.49 L308.97,623.90 L307.40,624.32 L305.82,624.75 L304.24,625.19 L302.66,625.63 L301.09,626.09 L299.51,626.55 L297.93,627.01 L296.36,627.48 L294.78,627.94 L293.20,628.40 L291.62,628.85 L290.05,629.28 L288.47,629.71 L286.89,630.11 L285.32,630.50 L283.74,630.86 L282.16,631.19 L280.58,631.50 L279.01,631.77 L277.43,632.00 L275.85,632.20 L274.27,632.36 L272.70,632.48 L271.12,632.56 L269.54,632.59 L267.97,632.58 L266.39,632.52 L264.81,632.42 L263.23,632.27 L261.66,632.07 L260.08,631.83 L258.50,631.54 L256.93,631.20 L255.35,630.83 L253.77,630.40 L252.19,629.94 L250.62,629.44 L249.04,628.89 L247.46,628.31 L245.88,627.70 L244.31,627.06 L242.73,626.39 L241.15,625.69 L239.58,624.98 L238.00,624.24 L236.42,623.49 L234.84,622.74 L233.27,621.98 L231.69,621.21 L230.11,620.45 L228.54,619.69 L226.96,618.94 L225.38,618.20 L223.80,617.47 L222.23,616.76 L220.65,616.06 L219.07,615.37 L217.49,614.71 L215.92,614.05 L214.34,613.42 L212.76,612.80 L211.19,612.19 L209.61,611.60 L208.03,611.02 L206.45,610.45 L204.88,609.89 L203.30,609.35 Z" fill="#999999" fill-opacity="0.4"/>
<path d="M203.30,582.34 L204.88,584.00 L206.45,585.63 L208.03,587.21 L209.61,588.75 L211.19,590.25 L212.76,591.71 L214.34,593.13 L215.92,594.51 L217.49,595.85 L219.07,597.14 L220.65,598.40 L222.23,599.62 L223.80,600.79 L225.38,601.92 L226.96,603.02 L228.54,604.07 L230.11,605.08 L231.69,606.05 L233.27,606.98 L234.84,607.87 L236.42,608.72 L238.00,609.53 L239.58,610.29 L241.15,611.02 L242.73,611.71 L244.31,612.35 L245.88,612.95 L247.46,613.52 L249.04,614.04 L250.62,614.52 L252.19,614.96 L253.77,615.36 L255.35,615.72 L256.93,616.04 L258.50,616.32 L260.08,616.55 L261.66,616.75 L263.23,616.90 L264.81,617.02 L266.39,617.09 L267.97,617.12 L269.54,617.12 L271.12,617.07 L272.70,616.98 L274.27,616.85 L275.85,616.68 L277.43,616.46 L279.01,616.21 L280.58,615.92 L282.16,615.58 L283.74,615.21 L285.32,614.79 L286.89,614.33 L288.47,613.84 L290.05,613.30 L291.62,612.72 L293.20,612.10 L294.78,611.44 L296.36,610.74 L297.93,610.00 L299.51,609.21 L301.09,608.39 L302.66,607.52 L304.24,606.62 L305.82,605.67 L307.40,604.69 L308.97,603.66 L310.55,602.59 L312.13,601.48 L313.71,600.33 L315.28,599.14 L316.86,597.91 L318.44,596.64 L320.01,595.32 L321.59,593.97 L323.17,592.57 L324.75,591.14 L326.32,589.66 L327.90,588.15" fill="none" stroke="#FF0000" stroke-width="2.0"/>
</g>
<line x1="196.75" y1="550.20" x2="196.75" y2="658.15" stroke="#111111" stroke-width="1.25"/>
<line x1="196.20" y1="657.60" x2="334.70" y2="657.60" stroke="#111111" stroke-width="1.25"/>
<line x1="193.75" y1="577.50" x2="196.75" y2="577.50" stroke="#111111" stroke-width="0.95"/>
<text transform="translate(191.75,580.70) scale(1.0,1)" font-size="8.6" text-anchor="end" fill="#4D4D4D">0</text>
<line x1="193.75" y1="606.70" x2="196.75" y2="606.70" stroke="#111111" stroke-width="0.95"/>
<text transform="translate(191.75,609.90) scale(1.0,1)" font-size="8.6" text-anchor="end" fill="#4D4D4D">-1</text>
<line x1="193.75" y1="635.90" x2="196.75" y2="635.90" stroke="#111111" stroke-width="0.95"/>
<text transform="translate(191.75,639.10) scale(1.0,1)" font-size="8.6" text-anchor="end" fill="#4D4D4D">-2</text>
<line x1="203.30" y1="657.60" x2="203.30" y2="660.30" stroke="#111111" stroke-width="0.95"/>
<text transform="translate(203.30,668.60) scale(1.0,1)" font-size="8.6" text-anchor="middle" fill="#4D4D4D">0</text>
<line x1="247.80" y1="657.60" x2="247.80" y2="660.30" stroke="#111111" stroke-width="0.95"/>
<text transform="translate(247.80,668.60) scale(1.0,1)" font-size="8.6" text-anchor="middle" fill="#4D4D4D">10</text>
<line x1="292.30" y1="657.60" x2="292.30" y2="660.30" stroke="#111111" stroke-width="0.95"/>
<text transform="translate(292.30,668.60) scale(1.0,1)" font-size="8.6" text-anchor="middle" fill="#4D4D4D">20</text>
<text transform="translate(265.73,680.20) scale(1.057,1)" font-size="10.0" text-anchor="middle" fill="#000">Storage Time (days)</text>
<text transform="translate(179.60,603.90) scale(1.0,1) rotate(-90)" font-size="10.5" text-anchor="middle" fill="#000">g</text>
<text transform="translate(370.40,529.60) scale(1.0,1)" font-size="12.63" text-anchor="start" fill="#000" font-weight="bold">O. Polygalacturonase</text>
<text transform="translate(370.40,542.80) scale(1.0,1)" font-size="7.63" text-anchor="start" fill="#1a1a1a">R² = 0.656 , p = 0.411 , Model = Q</text>
<clipPath id="clipO"><rect x="370.40" y="550.20" width="137.30" height="107.40"/></clipPath>
<g clip-path="url(#clipO)">
<line x1="376.90" y1="582.19" x2="376.90" y2="596.18" stroke="#000000" stroke-width="1.2"/>
<ellipse cx="376.90" cy="589.19" rx="2.2" ry="2.1" fill="#000000"/>
<line x1="394.69" y1="596.18" x2="394.69" y2="613.88" stroke="#008B00" stroke-width="1.2"/>
<ellipse cx="394.69" cy="605.03" rx="2.2" ry="2.1" fill="#008B00"/>
<line x1="412.48" y1="599.07" x2="412.48" y2="615.12" stroke="#008B00" stroke-width="1.2"/>
<ellipse cx="412.48" cy="607.09" rx="2.2" ry="2.1" fill="#008B00"/>
<line x1="430.27" y1="612.03" x2="430.27" y2="630.96" stroke="#008B00" stroke-width="1.2"/>
<ellipse cx="430.27" cy="621.50" rx="2.2" ry="2.1" fill="#008B00"/>
<line x1="448.06" y1="605.65" x2="448.06" y2="622.12" stroke="#008B00" stroke-width="1.2"/>
<ellipse cx="448.06" cy="613.88" rx="2.2" ry="2.1" fill="#008B00"/>
<line x1="465.85" y1="631.38" x2="465.85" y2="652.78" stroke="#008B00" stroke-width="1.2"/>
<ellipse cx="465.85" cy="642.08" rx="2.2" ry="2.1" fill="#008B00"/>
<line x1="501.43" y1="581.37" x2="501.43" y2="601.95" stroke="#000000" stroke-width="1.2"/>
<ellipse cx="501.43" cy="591.66" rx="2.2" ry="2.1" fill="#000000"/>
<path d="M376.90,555.65 L378.48,558.75 L380.05,561.74 L381.63,564.62 L383.21,567.38 L384.78,570.04 L386.36,572.57 L387.93,574.99 L389.51,577.29 L391.09,579.47 L392.66,581.53 L394.24,583.46 L395.82,585.28 L397.39,586.97 L398.97,588.55 L400.54,590.02 L402.12,591.37 L403.70,592.62 L405.27,593.76 L406.85,594.81 L408.43,595.78 L410.00,596.66 L411.58,597.46 L413.16,598.19 L414.73,598.86 L416.31,599.47 L417.88,600.02 L419.46,600.52 L421.04,600.98 L422.61,601.39 L424.19,601.77 L425.77,602.10 L427.34,602.41 L428.92,602.67 L430.50,602.91 L432.07,603.12 L433.65,603.30 L435.22,603.45 L436.80,603.58 L438.38,603.68 L439.95,603.75 L441.53,603.79 L443.11,603.80 L444.68,603.79 L446.26,603.75 L447.83,603.67 L449.41,603.57 L450.99,603.43 L452.56,603.25 L454.14,603.04 L455.72,602.78 L457.29,602.49 L458.87,602.14 L460.45,601.75 L462.02,601.30 L463.60,600.79 L465.17,600.23 L466.75,599.60 L468.33,598.90 L469.90,598.12 L471.48,597.26 L473.06,596.32 L474.63,595.30 L476.21,594.18 L477.79,592.97 L479.36,591.65 L480.94,590.24 L482.51,588.72 L484.09,587.10 L485.67,585.37 L487.24,583.53 L488.82,581.58 L490.40,579.52 L491.97,577.35 L493.55,575.08 L495.12,572.69 L496.70,570.20 L498.28,567.61 L499.85,564.90 L501.43,562.10 L501.43,631.45 L499.85,631.59 L498.28,631.75 L496.70,631.93 L495.12,632.14 L493.55,632.38 L491.97,632.63 L490.40,632.92 L488.82,633.23 L487.24,633.57 L485.67,633.93 L484.09,634.32 L482.51,634.74 L480.94,635.18 L479.36,635.63 L477.79,636.11 L476.21,636.61 L474.63,637.11 L473.06,637.63 L471.48,638.15 L469.90,638.67 L468.33,639.19 L466.75,639.70 L465.17,640.20 L463.60,640.68 L462.02,641.14 L460.45,641.58 L458.87,641.98 L457.29,642.35 L455.72,642.69 L454.14,642.99 L452.56,643.24 L450.99,643.45 L449.41,643.61 L447.83,643.73 L446.26,643.79 L444.68,643.81 L443.11,643.76 L441.53,643.67 L439.95,643.52 L438.38,643.31 L436.80,643.05 L435.22,642.74 L433.65,642.37 L432.07,641.94 L430.50,641.46 L428.92,640.93 L427.34,640.34 L425.77,639.71 L424.19,639.03 L422.61,638.30 L421.04,637.53 L419.46,636.72 L417.88,635.87 L416.31,634.99 L414.73,634.09 L413.16,633.16 L411.58,632.21 L410.00,631.25 L408.43,630.29 L406.85,629.32 L405.27,628.36 L403.70,627.41 L402.12,626.49 L400.54,625.58 L398.97,624.70 L397.39,623.86 L395.82,623.04 L394.24,622.27 L392.66,621.54 L391.09,620.84 L389.51,620.18 L387.93,619.56 L386.36,618.98 L384.78,618.43 L383.21,617.92 L381.63,617.43 L380.05,616.98 L378.48,616.55 L376.90,616.15 Z" fill="#999999" fill-opacity="0.4"/>
<path d="M376.90,585.90 L378.48,587.65 L380.05,589.36 L381.63,591.02 L383.21,592.65 L384.78,594.23 L386.36,595.78 L387.93,597.28 L389.51,598.74 L391.09,600.15 L392.66,601.53 L394.24,602.87 L395.82,604.16 L397.39,605.42 L398.97,606.63 L400.54,607.80 L402.12,608.93 L403.70,610.01 L405.27,611.06 L406.85,612.07 L408.43,613.03 L410.00,613.95 L411.58,614.83 L413.16,615.67 L414.73,616.47 L416.31,617.23 L417.88,617.95 L419.46,618.62 L421.04,619.25 L422.61,619.85 L424.19,620.40 L425.77,620.91 L427.34,621.37 L428.92,621.80 L430.50,622.19 L432.07,622.53 L433.65,622.83 L435.22,623.10 L436.80,623.32 L438.38,623.49 L439.95,623.63 L441.53,623.73 L443.11,623.78 L444.68,623.80 L446.26,623.77 L447.83,623.70 L449.41,623.59 L450.99,623.44 L452.56,623.25 L454.14,623.01 L455.72,622.74 L457.29,622.42 L458.87,622.06 L460.45,621.66 L462.02,621.22 L463.60,620.74 L465.17,620.21 L466.75,619.65 L468.33,619.04 L469.90,618.40 L471.48,617.71 L473.06,616.98 L474.63,616.21 L476.21,615.39 L477.79,614.54 L479.36,613.64 L480.94,612.71 L482.51,611.73 L484.09,610.71 L485.67,609.65 L487.24,608.55 L488.82,607.40 L490.40,606.22 L491.97,604.99 L493.55,603.73 L495.12,602.42 L496.70,601.07 L498.28,599.68 L499.85,598.25 L501.43,596.77" fill="none" stroke="#FF0000" stroke-width="2.0"/>
</g>
<line x1="370.40" y1="550.20" x2="370.40" y2="658.15" stroke="#111111" stroke-width="1.25"/>
<line x1="369.85" y1="657.60" x2="507.70" y2="657.60" stroke="#111111" stroke-width="1.25"/>
<line x1="367.40" y1="565.52" x2="370.40" y2="565.52" stroke="#111111" stroke-width="0.95"/>
<text transform="translate(365.40,568.72) scale(1.0,1)" font-size="8.6" text-anchor="end" fill="#4D4D4D">1</text>
<line x1="367.40" y1="586.10" x2="370.40" y2="586.10" stroke="#111111" stroke-width="0.95"/>
<text transform="translate(365.40,589.30) scale(1.0,1)" font-size="8.6" text-anchor="end" fill="#4D4D4D">0</text>
<line x1="367.40" y1="606.68" x2="370.40" y2="606.68" stroke="#111111" stroke-width="0.95"/>
<text transform="translate(365.40,609.88) scale(1.0,1)" font-size="8.6" text-anchor="end" fill="#4D4D4D">-1</text>
<line x1="367.40" y1="627.26" x2="370.40" y2="627.26" stroke="#111111" stroke-width="0.95"/>
<text transform="translate(365.40,630.46) scale(1.0,1)" font-size="8.6" text-anchor="end" fill="#4D4D4D">-2</text>
<line x1="367.40" y1="647.84" x2="370.40" y2="647.84" stroke="#111111" stroke-width="0.95"/>
<text transform="translate(365.40,651.04) scale(1.0,1)" font-size="8.6" text-anchor="end" fill="#4D4D4D">-3</text>
<line x1="376.90" y1="657.60" x2="376.90" y2="660.30" stroke="#111111" stroke-width="0.95"/>
<text transform="translate(376.90,668.60) scale(1.0,1)" font-size="8.6" text-anchor="middle" fill="#4D4D4D">0</text>
<line x1="406.55" y1="657.60" x2="406.55" y2="660.30" stroke="#111111" stroke-width="0.95"/>
<text transform="translate(406.55,668.60) scale(1.0,1)" font-size="8.6" text-anchor="middle" fill="#4D4D4D">5</text>
<line x1="436.20" y1="657.60" x2="436.20" y2="660.30" stroke="#111111" stroke-width="0.95"/>
<text transform="translate(436.20,668.60) scale(1.0,1)" font-size="8.6" text-anchor="middle" fill="#4D4D4D">10</text>
<line x1="465.85" y1="657.60" x2="465.85" y2="660.30" stroke="#111111" stroke-width="0.95"/>
<text transform="translate(465.85,668.60) scale(1.0,1)" font-size="8.6" text-anchor="middle" fill="#4D4D4D">15</text>
<line x1="495.50" y1="657.60" x2="495.50" y2="660.30" stroke="#111111" stroke-width="0.95"/>
<text transform="translate(495.50,668.60) scale(1.0,1)" font-size="8.6" text-anchor="middle" fill="#4D4D4D">20</text>
<text transform="translate(439.05,680.20) scale(1.057,1)" font-size="10.0" text-anchor="middle" fill="#000">Storage Time (days)</text>
<text transform="translate(353.25,603.90) scale(1.0,1) rotate(-90)" font-size="10.5" text-anchor="middle" fill="#000">g</text>
<text transform="translate(543.60,529.60) scale(1.0,1)" font-size="12.63" text-anchor="start" fill="#000" font-weight="bold">P. Phospholipase D</text>
<text transform="translate(543.60,542.80) scale(1.0,1)" font-size="7.63" text-anchor="start" fill="#1a1a1a">R² = 0.634 , p = 0.395 , Model = Q</text>
<clipPath id="clipP"><rect x="543.60" y="550.20" width="137.10" height="107.40"/></clipPath>
<g clip-path="url(#clipP)">
<line x1="550.05" y1="568.80" x2="550.05" y2="586.06" stroke="#000000" stroke-width="1.2"/>
<ellipse cx="550.05" cy="577.43" rx="2.2" ry="2.1" fill="#000000"/>
<line x1="570.81" y1="582.80" x2="570.81" y2="603.80" stroke="#008B00" stroke-width="1.2"/>
<ellipse cx="570.81" cy="593.30" rx="2.2" ry="2.1" fill="#008B00"/>
<line x1="591.57" y1="592.13" x2="591.57" y2="614.99" stroke="#008B00" stroke-width="1.2"/>
<ellipse cx="591.57" cy="603.56" rx="2.2" ry="2.1" fill="#008B00"/>
<line x1="612.33" y1="600.30" x2="612.33" y2="624.56" stroke="#008B00" stroke-width="1.2"/>
<ellipse cx="612.33" cy="612.43" rx="2.2" ry="2.1" fill="#008B00"/>
<line x1="627.90" y1="608.23" x2="627.90" y2="652.56" stroke="#008B00" stroke-width="1.2"/>
<ellipse cx="627.90" cy="630.39" rx="2.2" ry="2.1" fill="#008B00"/>
<line x1="633.09" y1="583.96" x2="633.09" y2="608.23" stroke="#008B00" stroke-width="1.2"/>
<ellipse cx="633.09" cy="596.10" rx="2.2" ry="2.1" fill="#008B00"/>
<line x1="653.85" y1="583.96" x2="653.85" y2="605.43" stroke="#008B00" stroke-width="1.2"/>
<ellipse cx="653.85" cy="594.70" rx="2.2" ry="2.1" fill="#008B00"/>
<line x1="659.04" y1="583.03" x2="659.04" y2="617.56" stroke="#000000" stroke-width="1.2"/>
<ellipse cx="659.04" cy="600.30" rx="2.2" ry="2.1" fill="#000000"/>
<line x1="674.61" y1="580.00" x2="674.61" y2="599.60" stroke="#000000" stroke-width="1.2"/>
<ellipse cx="674.61" cy="589.80" rx="2.2" ry="2.1" fill="#000000"/>
<path d="M550.05,555.73 L551.63,558.14 L553.20,560.46 L554.78,562.71 L556.36,564.89 L557.93,566.98 L559.51,569.00 L561.09,570.94 L562.66,572.79 L564.24,574.57 L565.82,576.27 L567.39,577.88 L568.97,579.41 L570.55,580.86 L572.12,582.23 L573.70,583.53 L575.28,584.74 L576.85,585.88 L578.43,586.95 L580.01,587.95 L581.58,588.87 L583.16,589.74 L584.74,590.54 L586.31,591.29 L587.89,591.97 L589.47,592.61 L591.04,593.20 L592.62,593.73 L594.20,594.23 L595.77,594.68 L597.35,595.09 L598.93,595.47 L600.50,595.81 L602.08,596.11 L603.66,596.38 L605.23,596.62 L606.81,596.83 L608.39,597.00 L609.96,597.15 L611.54,597.27 L613.12,597.36 L614.70,597.42 L616.27,597.45 L617.85,597.45 L619.43,597.43 L621.00,597.37 L622.58,597.29 L624.16,597.17 L625.73,597.03 L627.31,596.85 L628.89,596.64 L630.46,596.40 L632.04,596.12 L633.62,595.80 L635.19,595.45 L636.77,595.05 L638.35,594.61 L639.92,594.13 L641.50,593.60 L643.08,593.02 L644.65,592.39 L646.23,591.70 L647.81,590.96 L649.38,590.15 L650.96,589.29 L652.54,588.35 L654.11,587.35 L655.69,586.28 L657.27,585.13 L658.84,583.91 L660.42,582.62 L662.00,581.25 L663.57,579.80 L665.15,578.28 L666.73,576.67 L668.30,574.99 L669.88,573.23 L671.46,571.39 L673.03,569.47 L674.61,567.47 L674.61,606.45 L673.03,607.04 L671.46,607.63 L669.88,608.23 L668.30,608.84 L666.73,609.45 L665.15,610.07 L663.57,610.69 L662.00,611.32 L660.42,611.95 L658.84,612.59 L657.27,613.23 L655.69,613.87 L654.11,614.51 L652.54,615.15 L650.96,615.79 L649.38,616.42 L647.81,617.03 L646.23,617.64 L644.65,618.23 L643.08,618.81 L641.50,619.36 L639.92,619.89 L638.35,620.40 L636.77,620.88 L635.19,621.32 L633.62,621.74 L632.04,622.12 L630.46,622.47 L628.89,622.78 L627.31,623.05 L625.73,623.28 L624.16,623.47 L622.58,623.62 L621.00,623.73 L619.43,623.79 L617.85,623.81 L616.27,623.79 L614.70,623.72 L613.12,623.61 L611.54,623.45 L609.96,623.25 L608.39,623.01 L606.81,622.72 L605.23,622.40 L603.66,622.03 L602.08,621.62 L600.50,621.17 L598.93,620.68 L597.35,620.16 L595.77,619.60 L594.20,619.01 L592.62,618.39 L591.04,617.74 L589.47,617.07 L587.89,616.37 L586.31,615.65 L584.74,614.92 L583.16,614.17 L581.58,613.41 L580.01,612.65 L578.43,611.88 L576.85,611.10 L575.28,610.33 L573.70,609.56 L572.12,608.79 L570.55,608.03 L568.97,607.28 L567.39,606.54 L565.82,605.80 L564.24,605.08 L562.66,604.36 L561.09,603.65 L559.51,602.95 L557.93,602.25 L556.36,601.57 L554.78,600.88 L553.20,600.21 L551.63,599.53 L550.05,598.86 Z" fill="#999999" fill-opacity="0.4"/>
<path d="M550.05,577.30 L551.63,578.83 L553.20,580.33 L554.78,581.80 L556.36,583.23 L557.93,584.62 L559.51,585.97 L561.09,587.29 L562.66,588.58 L564.24,589.82 L565.82,591.03 L567.39,592.21 L568.97,593.35 L570.55,594.45 L572.12,595.51 L573.70,596.54 L575.28,597.54 L576.85,598.49 L578.43,599.41 L580.01,600.30 L581.58,601.14 L583.16,601.96 L584.74,602.73 L586.31,603.47 L587.89,604.17 L589.47,604.84 L591.04,605.47 L592.62,606.06 L594.20,606.62 L595.77,607.14 L597.35,607.63 L598.93,608.08 L600.50,608.49 L602.08,608.86 L603.66,609.20 L605.23,609.51 L606.81,609.78 L608.39,610.01 L609.96,610.20 L611.54,610.36 L613.12,610.48 L614.70,610.57 L616.27,610.62 L617.85,610.63 L619.43,610.61 L621.00,610.55 L622.58,610.45 L624.16,610.32 L625.73,610.16 L627.31,609.95 L628.89,609.71 L630.46,609.43 L632.04,609.12 L633.62,608.77 L635.19,608.39 L636.77,607.96 L638.35,607.51 L639.92,607.01 L641.50,606.48 L643.08,605.91 L644.65,605.31 L646.23,604.67 L647.81,604.00 L649.38,603.28 L650.96,602.54 L652.54,601.75 L654.11,600.93 L655.69,600.07 L657.27,599.18 L658.84,598.25 L660.42,597.29 L662.00,596.28 L663.57,595.25 L665.15,594.17 L666.73,593.06 L668.30,591.91 L669.88,590.73 L671.46,589.51 L673.03,588.25 L674.61,586.96" fill="none" stroke="#FF0000" stroke-width="2.0"/>
</g>
<line x1="543.60" y1="550.20" x2="543.60" y2="658.15" stroke="#111111" stroke-width="1.25"/>
<line x1="543.05" y1="657.60" x2="680.70" y2="657.60" stroke="#111111" stroke-width="1.25"/>
<line x1="540.60" y1="572.30" x2="543.60" y2="572.30" stroke="#111111" stroke-width="0.95"/>
<text transform="translate(538.60,575.50) scale(1.0,1)" font-size="8.6" text-anchor="end" fill="#4D4D4D">0</text>
<line x1="540.60" y1="595.63" x2="543.60" y2="595.63" stroke="#111111" stroke-width="0.95"/>
<text transform="translate(538.60,598.83) scale(1.0,1)" font-size="8.6" text-anchor="end" fill="#4D4D4D">-1</text>
<line x1="540.60" y1="618.96" x2="543.60" y2="618.96" stroke="#111111" stroke-width="0.95"/>
<text transform="translate(538.60,622.16) scale(1.0,1)" font-size="8.6" text-anchor="end" fill="#4D4D4D">-2</text>
<line x1="540.60" y1="642.29" x2="543.60" y2="642.29" stroke="#111111" stroke-width="0.95"/>
<text transform="translate(538.60,645.49) scale(1.0,1)" font-size="8.6" text-anchor="end" fill="#4D4D4D">-3</text>
<line x1="550.05" y1="657.60" x2="550.05" y2="660.30" stroke="#111111" stroke-width="0.95"/>
<text transform="translate(550.05,668.60) scale(1.0,1)" font-size="8.6" text-anchor="middle" fill="#4D4D4D">0</text>
<line x1="576.00" y1="657.60" x2="576.00" y2="660.30" stroke="#111111" stroke-width="0.95"/>
<text transform="translate(576.00,668.60) scale(1.0,1)" font-size="8.6" text-anchor="middle" fill="#4D4D4D">5</text>
<line x1="601.95" y1="657.60" x2="601.95" y2="660.30" stroke="#111111" stroke-width="0.95"/>
<text transform="translate(601.95,668.60) scale(1.0,1)" font-size="8.6" text-anchor="middle" fill="#4D4D4D">10</text>
<line x1="627.90" y1="657.60" x2="627.90" y2="660.30" stroke="#111111" stroke-width="0.95"/>
<text transform="translate(627.90,668.60) scale(1.0,1)" font-size="8.6" text-anchor="middle" fill="#4D4D4D">15</text>
<line x1="653.85" y1="657.60" x2="653.85" y2="660.30" stroke="#111111" stroke-width="0.95"/>
<text transform="translate(653.85,668.60) scale(1.0,1)" font-size="8.6" text-anchor="middle" fill="#4D4D4D">20</text>
<line x1="679.80" y1="657.60" x2="679.80" y2="660.30" stroke="#111111" stroke-width="0.95"/>
<text transform="translate(679.80,668.60) scale(1.0,1)" font-size="8.6" text-anchor="middle" fill="#4D4D4D">25</text>
<text transform="translate(612.15,680.20) scale(1.057,1)" font-size="10.0" text-anchor="middle" fill="#000">Storage Time (days)</text>
<text transform="translate(526.45,603.90) scale(1.0,1) rotate(-90)" font-size="10.5" text-anchor="middle" fill="#000">g</text>
<text transform="translate(23.40,702.80) scale(1.0,1)" font-size="12.63" text-anchor="start" fill="#000" font-weight="bold">Q. Pectin methylesterase</text>
<text transform="translate(23.40,716.00) scale(1.0,1)" font-size="7.63" text-anchor="start" fill="#1a1a1a">R² = 0.658 , p = 0.05 , Model = L</text>
<clipPath id="clipQ"><rect x="23.40" y="723.40" width="137.30" height="107.40"/></clipPath>
<g clip-path="url(#clipQ)">
<line x1="30.30" y1="753.81" x2="30.30" y2="767.30" stroke="#000000" stroke-width="1.2"/>
<ellipse cx="30.30" cy="760.55" rx="2.2" ry="2.1" fill="#000000"/>
<line x1="55.05" y1="760.38" x2="55.05" y2="778.12" stroke="#000000" stroke-width="1.2"/>
<ellipse cx="55.05" cy="769.25" rx="2.2" ry="2.1" fill="#000000"/>
<line x1="79.80" y1="753.99" x2="79.80" y2="768.54" stroke="#000000" stroke-width="1.2"/>
<ellipse cx="79.80" cy="761.26" rx="2.2" ry="2.1" fill="#000000"/>
<line x1="104.55" y1="761.44" x2="104.55" y2="779.19" stroke="#000000" stroke-width="1.2"/>
<ellipse cx="104.55" cy="770.32" rx="2.2" ry="2.1" fill="#000000"/>
<line x1="129.30" y1="769.43" x2="129.30" y2="785.40" stroke="#008B00" stroke-width="1.2"/>
<ellipse cx="129.30" cy="777.42" rx="2.2" ry="2.1" fill="#008B00"/>
<line x1="154.05" y1="801.56" x2="154.05" y2="826.40" stroke="#008B00" stroke-width="1.2"/>
<ellipse cx="154.05" cy="813.98" rx="2.2" ry="2.1" fill="#008B00"/>
<path d="M30.30,728.16 L31.87,729.13 L33.43,730.09 L35.00,731.04 L36.57,731.99 L38.13,732.94 L39.70,733.89 L41.27,734.82 L42.83,735.76 L44.40,736.68 L45.96,737.61 L47.53,738.52 L49.10,739.43 L50.66,740.33 L52.23,741.23 L53.80,742.12 L55.36,743.00 L56.93,743.87 L58.50,744.73 L60.06,745.59 L61.63,746.43 L63.20,747.27 L64.76,748.09 L66.33,748.90 L67.89,749.70 L69.46,750.49 L71.03,751.27 L72.59,752.03 L74.16,752.78 L75.73,753.51 L77.29,754.23 L78.86,754.94 L80.43,755.63 L81.99,756.30 L83.56,756.96 L85.13,757.59 L86.69,758.22 L88.26,758.82 L89.83,759.41 L91.39,759.97 L92.96,760.52 L94.52,761.05 L96.09,761.57 L97.66,762.06 L99.22,762.54 L100.79,763.00 L102.36,763.44 L103.92,763.87 L105.49,764.27 L107.06,764.67 L108.62,765.04 L110.19,765.40 L111.76,765.75 L113.32,766.08 L114.89,766.40 L116.46,766.71 L118.02,767.00 L119.59,767.28 L121.15,767.55 L122.72,767.81 L124.29,768.05 L125.85,768.29 L127.42,768.52 L128.99,768.74 L130.55,768.95 L132.12,769.15 L133.69,769.34 L135.25,769.53 L136.82,769.71 L138.39,769.88 L139.95,770.05 L141.52,770.21 L143.08,770.36 L144.65,770.51 L146.22,770.66 L147.78,770.80 L149.35,770.93 L150.92,771.06 L152.48,771.19 L154.05,771.31 L154.05,822.07 L152.48,821.11 L150.92,820.15 L149.35,819.20 L147.78,818.25 L146.22,817.31 L144.65,816.37 L143.08,815.43 L141.52,814.51 L139.95,813.58 L138.39,812.67 L136.82,811.76 L135.25,810.85 L133.69,809.96 L132.12,809.07 L130.55,808.19 L128.99,807.31 L127.42,806.45 L125.85,805.59 L124.29,804.75 L122.72,803.91 L121.15,803.09 L119.59,802.27 L118.02,801.47 L116.46,800.68 L114.89,799.90 L113.32,799.14 L111.76,798.39 L110.19,797.65 L108.62,796.93 L107.06,796.22 L105.49,795.53 L103.92,794.86 L102.36,794.20 L100.79,793.56 L99.22,792.93 L97.66,792.33 L96.09,791.74 L94.52,791.17 L92.96,790.62 L91.39,790.09 L89.83,789.57 L88.26,789.07 L86.69,788.59 L85.13,788.13 L83.56,787.69 L81.99,787.26 L80.43,786.85 L78.86,786.45 L77.29,786.08 L75.73,785.71 L74.16,785.36 L72.59,785.03 L71.03,784.71 L69.46,784.40 L67.89,784.11 L66.33,783.83 L64.76,783.56 L63.20,783.30 L61.63,783.05 L60.06,782.81 L58.50,782.58 L56.93,782.36 L55.36,782.15 L53.80,781.95 L52.23,781.75 L50.66,781.57 L49.10,781.39 L47.53,781.21 L45.96,781.04 L44.40,780.88 L42.83,780.73 L41.27,780.58 L39.70,780.43 L38.13,780.29 L36.57,780.16 L35.00,780.03 L33.43,779.90 L31.87,779.78 L30.30,779.66 Z" fill="#999999" fill-opacity="0.4"/>
<path d="M30.30,753.91 L31.87,754.45 L33.43,754.99 L35.00,755.53 L36.57,756.08 L38.13,756.62 L39.70,757.16 L41.27,757.70 L42.83,758.24 L44.40,758.78 L45.96,759.32 L47.53,759.87 L49.10,760.41 L50.66,760.95 L52.23,761.49 L53.80,762.03 L55.36,762.57 L56.93,763.12 L58.50,763.66 L60.06,764.20 L61.63,764.74 L63.20,765.28 L64.76,765.82 L66.33,766.36 L67.89,766.91 L69.46,767.45 L71.03,767.99 L72.59,768.53 L74.16,769.07 L75.73,769.61 L77.29,770.16 L78.86,770.70 L80.43,771.24 L81.99,771.78 L83.56,772.32 L85.13,772.86 L86.69,773.40 L88.26,773.95 L89.83,774.49 L91.39,775.03 L92.96,775.57 L94.52,776.11 L96.09,776.65 L97.66,777.20 L99.22,777.74 L100.79,778.28 L102.36,778.82 L103.92,779.36 L105.49,779.90 L107.06,780.44 L108.62,780.99 L110.19,781.53 L111.76,782.07 L113.32,782.61 L114.89,783.15 L116.46,783.69 L118.02,784.23 L119.59,784.78 L121.15,785.32 L122.72,785.86 L124.29,786.40 L125.85,786.94 L127.42,787.48 L128.99,788.03 L130.55,788.57 L132.12,789.11 L133.69,789.65 L135.25,790.19 L136.82,790.73 L138.39,791.27 L139.95,791.82 L141.52,792.36 L143.08,792.90 L144.65,793.44 L146.22,793.98 L147.78,794.52 L149.35,795.07 L150.92,795.61 L152.48,796.15 L154.05,796.69" fill="none" stroke="#FF0000" stroke-width="2.0"/>
</g>
<line x1="23.40" y1="723.40" x2="23.40" y2="831.35" stroke="#111111" stroke-width="1.25"/>
<line x1="22.85" y1="830.80" x2="160.70" y2="830.80" stroke="#111111" stroke-width="1.25"/>
<line x1="20.40" y1="758.60" x2="23.40" y2="758.60" stroke="#111111" stroke-width="0.95"/>
<text transform="translate(18.40,761.80) scale(1.0,1)" font-size="8.6" text-anchor="end" fill="#4D4D4D">0</text>
<line x1="20.40" y1="794.10" x2="23.40" y2="794.10" stroke="#111111" stroke-width="0.95"/>
<text transform="translate(18.40,797.30) scale(1.0,1)" font-size="8.6" text-anchor="end" fill="#4D4D4D">-2</text>
<line x1="20.40" y1="829.60" x2="23.40" y2="829.60" stroke="#111111" stroke-width="0.95"/>
<text transform="translate(18.40,832.80) scale(1.0,1)" font-size="8.6" text-anchor="end" fill="#4D4D4D">-4</text>
<line x1="30.30" y1="830.80" x2="30.30" y2="833.50" stroke="#111111" stroke-width="0.95"/>
<text transform="translate(30.30,841.80) scale(1.0,1)" font-size="8.6" text-anchor="middle" fill="#4D4D4D">0</text>
<line x1="71.55" y1="830.80" x2="71.55" y2="833.50" stroke="#111111" stroke-width="0.95"/>
<text transform="translate(71.55,841.80) scale(1.0,1)" font-size="8.6" text-anchor="middle" fill="#4D4D4D">5</text>
<line x1="112.80" y1="830.80" x2="112.80" y2="833.50" stroke="#111111" stroke-width="0.95"/>
<text transform="translate(112.80,841.80) scale(1.0,1)" font-size="8.6" text-anchor="middle" fill="#4D4D4D">10</text>
<line x1="154.05" y1="830.80" x2="154.05" y2="833.50" stroke="#111111" stroke-width="0.95"/>
<text transform="translate(154.05,841.80) scale(1.0,1)" font-size="8.6" text-anchor="middle" fill="#4D4D4D">15</text>
<text transform="translate(92.05,853.40) scale(1.057,1)" font-size="10.0" text-anchor="middle" fill="#000">Storage Time (days)</text>
<text transform="translate(6.25,777.10) scale(1.0,1) rotate(-90)" font-size="10.5" text-anchor="middle" fill="#000">g</text>
</svg>
</body></html>
